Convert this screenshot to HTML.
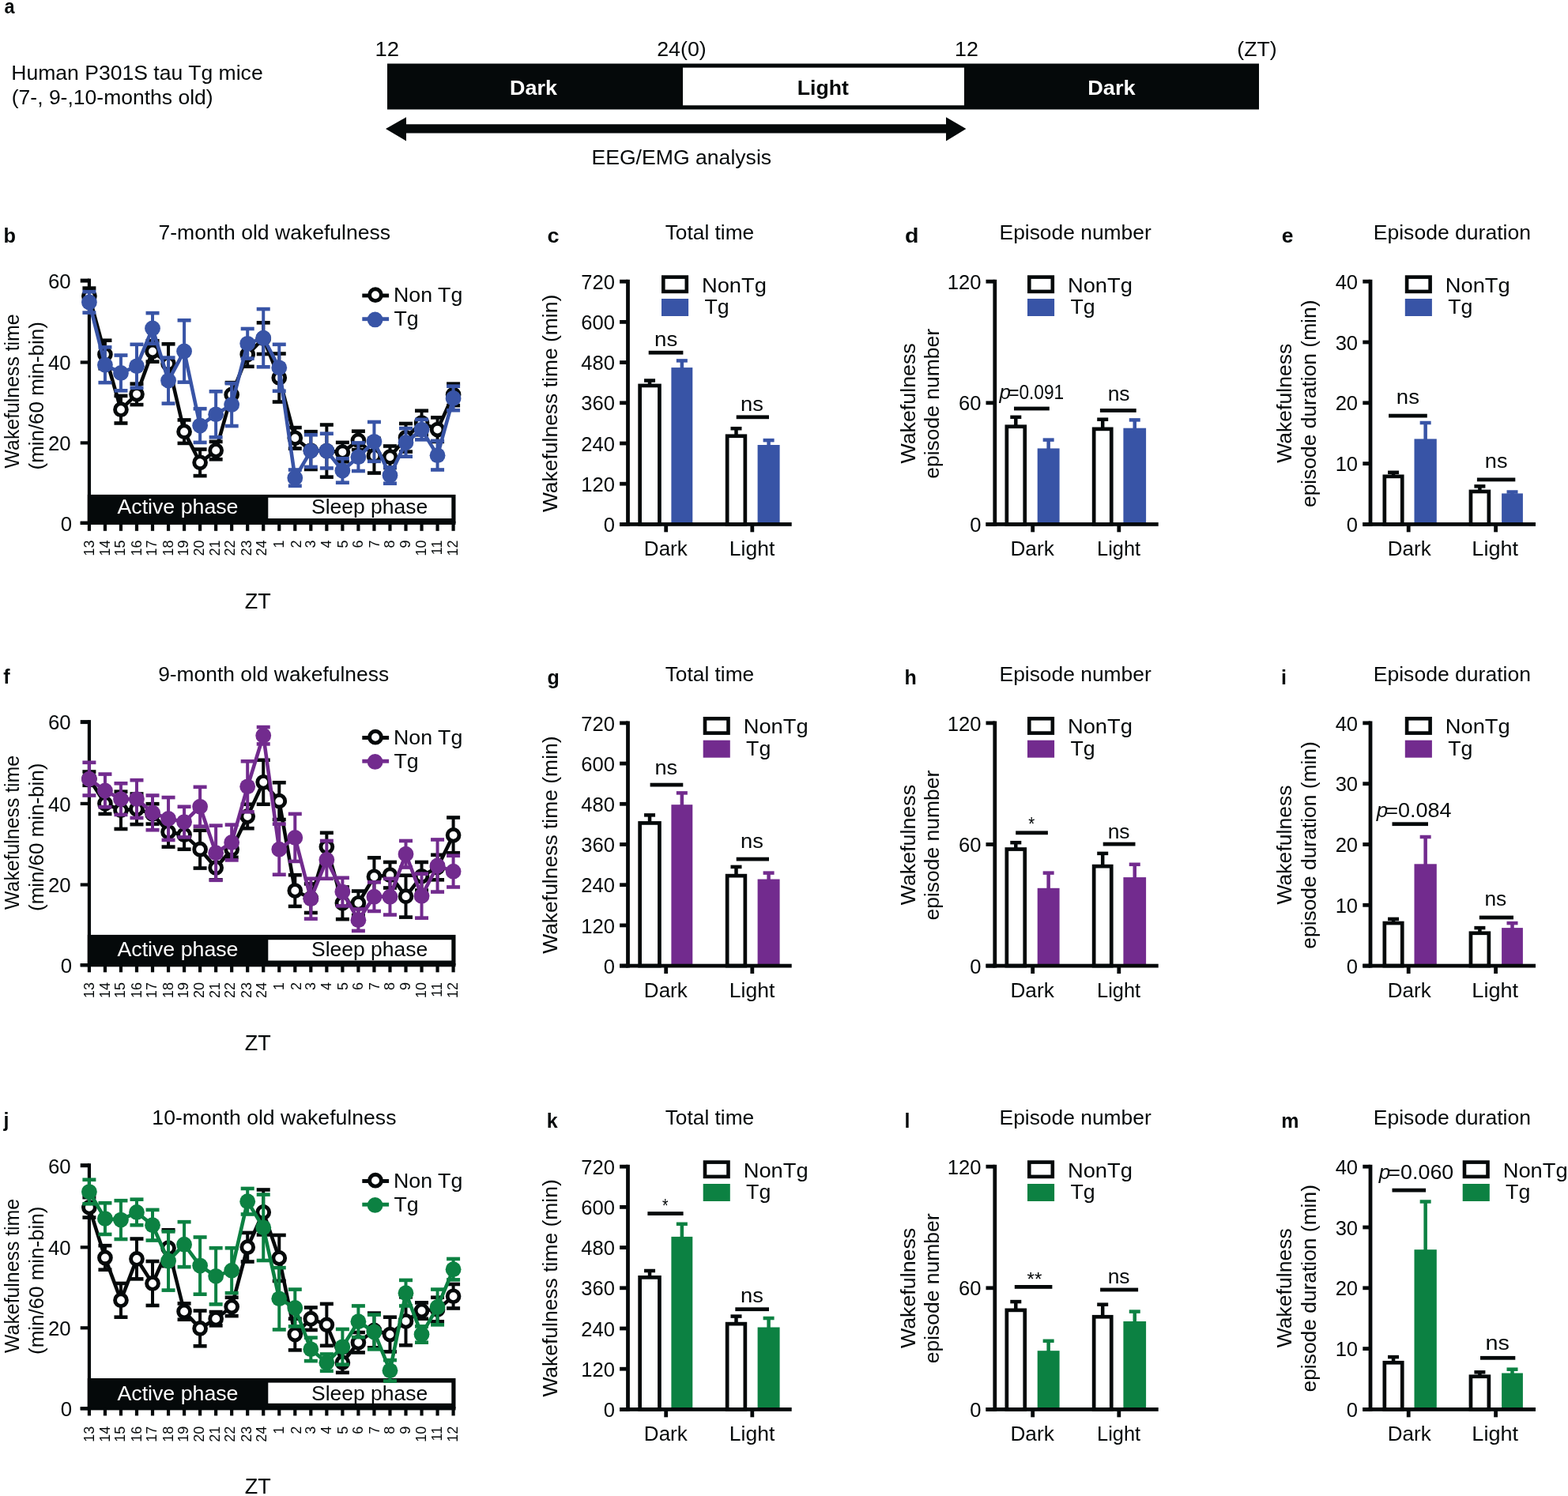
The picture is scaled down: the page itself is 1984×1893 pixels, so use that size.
<!DOCTYPE html>
<html><head><meta charset="utf-8"><title>Figure</title>
<style>html,body{margin:0;padding:0;background:#fff;}svg{display:block;}</style>
</head><body>
<svg width="1984" height="1893" viewBox="0 0 1984 1893" font-family="'Liberation Sans', Arial, sans-serif" fill="#05090a">
<rect width="100%" height="100%" fill="#ffffff"/>
<text x="5.52" y="17.3" font-size="25" font-weight="bold" textLength="13.02" lengthAdjust="spacingAndGlyphs">a</text>
<text x="14.22" y="101" font-size="26" textLength="318.44" lengthAdjust="spacingAndGlyphs">Human P301S tau Tg mice</text>
<text x="14.76" y="132" font-size="26" textLength="254.88" lengthAdjust="spacingAndGlyphs">(7-, 9-,10-months old)</text>
<text x="474.52" y="71" font-size="26.5" textLength="30.46" lengthAdjust="spacingAndGlyphs">12</text>
<text x="831.26" y="71" font-size="26.5" textLength="62.41" lengthAdjust="spacingAndGlyphs">24(0)</text>
<text x="1207.96" y="71" font-size="26.5" textLength="29.89" lengthAdjust="spacingAndGlyphs">12</text>
<text x="1565.35" y="71" font-size="26.5" textLength="50.3" lengthAdjust="spacingAndGlyphs">(ZT)</text>
<rect x="490" y="80.5" width="1103" height="58" fill="#05090a"/>
<rect x="864" y="85.6" width="356" height="47.7" fill="#ffffff"/>
<text x="645.1" y="119.6" font-size="25" font-weight="bold" fill="#ffffff" textLength="59.9" lengthAdjust="spacingAndGlyphs">Dark</text>
<text x="1008.81" y="119.6" font-size="25" font-weight="bold" textLength="65.12" lengthAdjust="spacingAndGlyphs">Light</text>
<text x="1376.18" y="119.6" font-size="25" font-weight="bold" fill="#ffffff" textLength="60.41" lengthAdjust="spacingAndGlyphs">Dark</text>
<path d="M488 163 L514 148.3 L514 157.2 L1197 157.2 L1197 148.3 L1222.4 163 L1197 178.4 L1197 168.6 L514 168.6 L514 178.4 Z" fill="#05090a"/>
<text x="748.42" y="208.2" font-size="26" textLength="227.74" lengthAdjust="spacingAndGlyphs">EEG/EMG analysis</text>
<text x="4.42" y="306.6" font-size="25" font-weight="bold" textLength="15.51" lengthAdjust="spacingAndGlyphs">b</text>
<text x="200.45" y="303.1" font-size="26.4" textLength="293.6" lengthAdjust="spacingAndGlyphs">7-month old wakefulness</text>
<text transform="translate(23.7 592.3) rotate(-90)" x="-0.12" y="0" font-size="26.2" textLength="195.03" lengthAdjust="spacingAndGlyphs">Wakefulness time</text>
<text transform="translate(55 592.9) rotate(-90)" x="-1.61" y="0" font-size="25.3" textLength="187.32" lengthAdjust="spacingAndGlyphs">(min/60 min-bin)</text>
<rect x="101.7" y="659.7" width="11.2" height="4.2" fill="#05090a"/>
<text x="76.66" y="671.6" font-size="25.8">0</text>
<rect x="101.7" y="558.3" width="11.2" height="4.2" fill="#05090a"/>
<text x="60.92" y="570.2" font-size="25.8">20</text>
<rect x="101.7" y="456.4" width="11.2" height="4.2" fill="#05090a"/>
<text x="60.92" y="468.3" font-size="25.8">40</text>
<rect x="101.7" y="352.6" width="11.2" height="5" fill="#05090a"/>
<text x="60.92" y="364.9" font-size="25.8">60</text>
<rect x="110.8" y="625.9" width="465.7" height="35.9" fill="#05090a"/>
<rect x="339.3" y="629.7" width="232" height="26.3" fill="#ffffff"/>
<rect x="110.8" y="352.6" width="4.2" height="311.3" fill="#05090a"/>
<rect x="101.7" y="659.7" width="474.8" height="4.2" fill="#05090a"/>
<rect x="110.8" y="661.8" width="4.2" height="10" fill="#05090a"/>
<text transform="translate(118.8 703.62) rotate(-90)" x="0" y="0" font-size="18">13</text>
<rect x="130.83" y="661.8" width="4.2" height="10" fill="#05090a"/>
<text transform="translate(139.43 703.62) rotate(-90)" x="0" y="0" font-size="18">14</text>
<rect x="150.86" y="661.8" width="4.2" height="10" fill="#05090a"/>
<text transform="translate(158.36 703.62) rotate(-90)" x="0" y="0" font-size="18">15</text>
<rect x="170.89" y="661.8" width="4.2" height="10" fill="#05090a"/>
<text transform="translate(178.99 703.62) rotate(-90)" x="0" y="0" font-size="18">16</text>
<rect x="190.92" y="661.8" width="4.2" height="10" fill="#05090a"/>
<text transform="translate(198.02 703.62) rotate(-90)" x="0" y="0" font-size="18">17</text>
<rect x="210.95" y="661.8" width="4.2" height="10" fill="#05090a"/>
<text transform="translate(218.65 703.62) rotate(-90)" x="0" y="0" font-size="18">18</text>
<rect x="230.98" y="661.8" width="4.2" height="10" fill="#05090a"/>
<text transform="translate(237.78 703.62) rotate(-90)" x="0" y="0" font-size="18">19</text>
<rect x="251.01" y="661.8" width="4.2" height="10" fill="#05090a"/>
<text transform="translate(258.31 703.62) rotate(-90)" x="0" y="0" font-size="18">20</text>
<rect x="271.04" y="661.8" width="4.2" height="10" fill="#05090a"/>
<text transform="translate(278.14 703.62) rotate(-90)" x="0" y="0" font-size="18">21</text>
<rect x="291.07" y="661.8" width="4.2" height="10" fill="#05090a"/>
<text transform="translate(297.27 703.62) rotate(-90)" x="0" y="0" font-size="18">22</text>
<rect x="311.1" y="661.8" width="4.2" height="10" fill="#05090a"/>
<text transform="translate(317.9 703.62) rotate(-90)" x="0" y="0" font-size="18">23</text>
<rect x="331.13" y="661.8" width="4.2" height="10" fill="#05090a"/>
<text transform="translate(336.93 703.62) rotate(-90)" x="0" y="0" font-size="18">24</text>
<rect x="351.16" y="661.8" width="4.2" height="10" fill="#05090a"/>
<text transform="translate(359.46 693.61) rotate(-90)" x="0" y="0" font-size="18">1</text>
<rect x="371.19" y="661.8" width="4.2" height="10" fill="#05090a"/>
<text transform="translate(380.79 693.61) rotate(-90)" x="0" y="0" font-size="18">2</text>
<rect x="391.22" y="661.8" width="4.2" height="10" fill="#05090a"/>
<text transform="translate(399.32 693.61) rotate(-90)" x="0" y="0" font-size="18">3</text>
<rect x="411.25" y="661.8" width="4.2" height="10" fill="#05090a"/>
<text transform="translate(419.25 693.61) rotate(-90)" x="0" y="0" font-size="18">4</text>
<rect x="431.28" y="661.8" width="4.2" height="10" fill="#05090a"/>
<text transform="translate(439.78 693.61) rotate(-90)" x="0" y="0" font-size="18">5</text>
<rect x="451.31" y="661.8" width="4.2" height="10" fill="#05090a"/>
<text transform="translate(459.01 693.61) rotate(-90)" x="0" y="0" font-size="18">6</text>
<rect x="471.34" y="661.8" width="4.2" height="10" fill="#05090a"/>
<text transform="translate(479.54 693.61) rotate(-90)" x="0" y="0" font-size="18">7</text>
<rect x="491.37" y="661.8" width="4.2" height="10" fill="#05090a"/>
<text transform="translate(498.77 693.61) rotate(-90)" x="0" y="0" font-size="18">8</text>
<rect x="511.4" y="661.8" width="4.2" height="10" fill="#05090a"/>
<text transform="translate(519.4 693.61) rotate(-90)" x="0" y="0" font-size="18">9</text>
<rect x="531.43" y="661.8" width="4.2" height="10" fill="#05090a"/>
<text transform="translate(538.63 703.62) rotate(-90)" x="0" y="0" font-size="18">10</text>
<rect x="551.46" y="661.8" width="4.2" height="10" fill="#05090a"/>
<text transform="translate(558.56 702.29) rotate(-90)" x="0" y="0" font-size="18">11</text>
<rect x="571.49" y="661.8" width="4.2" height="10" fill="#05090a"/>
<text transform="translate(579.09 703.62) rotate(-90)" x="0" y="0" font-size="18">12</text>
<text x="148.45" y="650.3" font-size="26" fill="#ffffff" textLength="153.05" lengthAdjust="spacingAndGlyphs">Active phase</text>
<text x="393.98" y="650.2" font-size="26" textLength="147.29" lengthAdjust="spacingAndGlyphs">Sleep phase</text>
<text x="309.84" y="770.2" font-size="27">ZT</text>
<rect x="110.9" y="364.63" width="4" height="20.34" fill="#05090a"/>
<rect x="104.4" y="362.33" width="17" height="4.6" fill="#05090a"/>
<rect x="104.4" y="382.67" width="17" height="4.6" fill="#05090a"/>
<rect x="130.93" y="430.73" width="4" height="35.6" fill="#05090a"/>
<rect x="124.43" y="428.43" width="17" height="4.6" fill="#05090a"/>
<rect x="124.43" y="464.03" width="17" height="4.6" fill="#05090a"/>
<rect x="150.96" y="500.91" width="4" height="34.58" fill="#05090a"/>
<rect x="144.46" y="498.61" width="17" height="4.6" fill="#05090a"/>
<rect x="144.46" y="533.18" width="17" height="4.6" fill="#05090a"/>
<rect x="170.99" y="485.65" width="4" height="26.44" fill="#05090a"/>
<rect x="164.49" y="483.35" width="17" height="4.6" fill="#05090a"/>
<rect x="164.49" y="509.79" width="17" height="4.6" fill="#05090a"/>
<rect x="191.02" y="431.24" width="4" height="26.44" fill="#05090a"/>
<rect x="184.52" y="428.94" width="17" height="4.6" fill="#05090a"/>
<rect x="184.52" y="455.38" width="17" height="4.6" fill="#05090a"/>
<rect x="211.05" y="435.31" width="4" height="49.83" fill="#05090a"/>
<rect x="204.55" y="433.01" width="17" height="4.6" fill="#05090a"/>
<rect x="204.55" y="482.84" width="17" height="4.6" fill="#05090a"/>
<rect x="231.08" y="531.42" width="4" height="29.49" fill="#05090a"/>
<rect x="224.58" y="529.12" width="17" height="4.6" fill="#05090a"/>
<rect x="224.58" y="558.61" width="17" height="4.6" fill="#05090a"/>
<rect x="251.11" y="568.54" width="4" height="33.56" fill="#05090a"/>
<rect x="244.61" y="566.24" width="17" height="4.6" fill="#05090a"/>
<rect x="244.61" y="599.8" width="17" height="4.6" fill="#05090a"/>
<rect x="271.14" y="558.87" width="4" height="22.37" fill="#05090a"/>
<rect x="264.64" y="556.57" width="17" height="4.6" fill="#05090a"/>
<rect x="264.64" y="578.95" width="17" height="4.6" fill="#05090a"/>
<rect x="291.17" y="484.12" width="4" height="30.51" fill="#05090a"/>
<rect x="284.67" y="481.82" width="17" height="4.6" fill="#05090a"/>
<rect x="284.67" y="512.34" width="17" height="4.6" fill="#05090a"/>
<rect x="311.2" y="433.28" width="4" height="30.51" fill="#05090a"/>
<rect x="304.7" y="430.98" width="17" height="4.6" fill="#05090a"/>
<rect x="304.7" y="461.49" width="17" height="4.6" fill="#05090a"/>
<rect x="331.23" y="408.36" width="4" height="39.66" fill="#05090a"/>
<rect x="324.73" y="406.06" width="17" height="4.6" fill="#05090a"/>
<rect x="324.73" y="445.72" width="17" height="4.6" fill="#05090a"/>
<rect x="351.26" y="447.51" width="4" height="61.02" fill="#05090a"/>
<rect x="344.76" y="445.21" width="17" height="4.6" fill="#05090a"/>
<rect x="344.76" y="506.23" width="17" height="4.6" fill="#05090a"/>
<rect x="371.29" y="541.08" width="4" height="26.44" fill="#05090a"/>
<rect x="364.79" y="538.78" width="17" height="4.6" fill="#05090a"/>
<rect x="364.79" y="565.22" width="17" height="4.6" fill="#05090a"/>
<rect x="391.32" y="546.16" width="4" height="47.8" fill="#05090a"/>
<rect x="384.82" y="543.86" width="17" height="4.6" fill="#05090a"/>
<rect x="384.82" y="591.66" width="17" height="4.6" fill="#05090a"/>
<rect x="411.35" y="537.52" width="4" height="66.11" fill="#05090a"/>
<rect x="404.85" y="535.22" width="17" height="4.6" fill="#05090a"/>
<rect x="404.85" y="601.32" width="17" height="4.6" fill="#05090a"/>
<rect x="431.38" y="559.89" width="4" height="24.41" fill="#05090a"/>
<rect x="424.88" y="557.59" width="17" height="4.6" fill="#05090a"/>
<rect x="424.88" y="582" width="17" height="4.6" fill="#05090a"/>
<rect x="451.41" y="545.65" width="4" height="23.39" fill="#05090a"/>
<rect x="444.91" y="543.35" width="17" height="4.6" fill="#05090a"/>
<rect x="444.91" y="566.74" width="17" height="4.6" fill="#05090a"/>
<rect x="471.44" y="554.81" width="4" height="43.73" fill="#05090a"/>
<rect x="464.94" y="552.51" width="17" height="4.6" fill="#05090a"/>
<rect x="464.94" y="596.24" width="17" height="4.6" fill="#05090a"/>
<rect x="491.47" y="564.47" width="4" height="27.46" fill="#05090a"/>
<rect x="484.97" y="562.17" width="17" height="4.6" fill="#05090a"/>
<rect x="484.97" y="589.63" width="17" height="4.6" fill="#05090a"/>
<rect x="511.5" y="535.99" width="4" height="35.6" fill="#05090a"/>
<rect x="505" y="533.69" width="17" height="4.6" fill="#05090a"/>
<rect x="505" y="569.29" width="17" height="4.6" fill="#05090a"/>
<rect x="531.53" y="519.72" width="4" height="30.51" fill="#05090a"/>
<rect x="525.03" y="517.42" width="17" height="4.6" fill="#05090a"/>
<rect x="525.03" y="547.93" width="17" height="4.6" fill="#05090a"/>
<rect x="551.56" y="528.36" width="4" height="30.51" fill="#05090a"/>
<rect x="545.06" y="526.06" width="17" height="4.6" fill="#05090a"/>
<rect x="545.06" y="556.57" width="17" height="4.6" fill="#05090a"/>
<rect x="571.59" y="485.65" width="4" height="27.46" fill="#05090a"/>
<rect x="565.09" y="483.35" width="17" height="4.6" fill="#05090a"/>
<rect x="565.09" y="510.81" width="17" height="4.6" fill="#05090a"/>
<polyline points="112.9,374.8 132.93,448.53 152.96,518.19 172.99,498.87 193.02,444.46 213.05,460.23 233.08,546.16 253.11,585.32 273.14,570.06 293.17,499.38 313.2,448.53 333.23,428.19 353.26,478.02 373.29,554.3 393.32,570.06 413.35,570.57 433.38,572.1 453.41,557.35 473.44,576.67 493.47,578.2 513.5,553.79 533.53,534.98 553.56,543.62 573.59,499.38" fill="none" stroke="#05090a" stroke-width="4.6" stroke-linejoin="round"/>
<circle cx="112.9" cy="374.8" r="7.4" fill="#ffffff" stroke="#05090a" stroke-width="4.9"/>
<circle cx="132.93" cy="448.53" r="7.4" fill="#ffffff" stroke="#05090a" stroke-width="4.9"/>
<circle cx="152.96" cy="518.19" r="7.4" fill="#ffffff" stroke="#05090a" stroke-width="4.9"/>
<circle cx="172.99" cy="498.87" r="7.4" fill="#ffffff" stroke="#05090a" stroke-width="4.9"/>
<circle cx="193.02" cy="444.46" r="7.4" fill="#ffffff" stroke="#05090a" stroke-width="4.9"/>
<circle cx="213.05" cy="460.23" r="7.4" fill="#ffffff" stroke="#05090a" stroke-width="4.9"/>
<circle cx="233.08" cy="546.16" r="7.4" fill="#ffffff" stroke="#05090a" stroke-width="4.9"/>
<circle cx="253.11" cy="585.32" r="7.4" fill="#ffffff" stroke="#05090a" stroke-width="4.9"/>
<circle cx="273.14" cy="570.06" r="7.4" fill="#ffffff" stroke="#05090a" stroke-width="4.9"/>
<circle cx="293.17" cy="499.38" r="7.4" fill="#ffffff" stroke="#05090a" stroke-width="4.9"/>
<circle cx="313.2" cy="448.53" r="7.4" fill="#ffffff" stroke="#05090a" stroke-width="4.9"/>
<circle cx="333.23" cy="428.19" r="7.4" fill="#ffffff" stroke="#05090a" stroke-width="4.9"/>
<circle cx="353.26" cy="478.02" r="7.4" fill="#ffffff" stroke="#05090a" stroke-width="4.9"/>
<circle cx="373.29" cy="554.3" r="7.4" fill="#ffffff" stroke="#05090a" stroke-width="4.9"/>
<circle cx="393.32" cy="570.06" r="7.4" fill="#ffffff" stroke="#05090a" stroke-width="4.9"/>
<circle cx="413.35" cy="570.57" r="7.4" fill="#ffffff" stroke="#05090a" stroke-width="4.9"/>
<circle cx="433.38" cy="572.1" r="7.4" fill="#ffffff" stroke="#05090a" stroke-width="4.9"/>
<circle cx="453.41" cy="557.35" r="7.4" fill="#ffffff" stroke="#05090a" stroke-width="4.9"/>
<circle cx="473.44" cy="576.67" r="7.4" fill="#ffffff" stroke="#05090a" stroke-width="4.9"/>
<circle cx="493.47" cy="578.2" r="7.4" fill="#ffffff" stroke="#05090a" stroke-width="4.9"/>
<circle cx="513.5" cy="553.79" r="7.4" fill="#ffffff" stroke="#05090a" stroke-width="4.9"/>
<circle cx="533.53" cy="534.98" r="7.4" fill="#ffffff" stroke="#05090a" stroke-width="4.9"/>
<circle cx="553.56" cy="543.62" r="7.4" fill="#ffffff" stroke="#05090a" stroke-width="4.9"/>
<circle cx="573.59" cy="499.38" r="7.4" fill="#ffffff" stroke="#05090a" stroke-width="4.9"/>
<rect x="110.9" y="369.2" width="4" height="26.44" fill="#3854a6"/>
<rect x="104.4" y="366.9" width="17" height="4.6" fill="#3854a6"/>
<rect x="104.4" y="393.35" width="17" height="4.6" fill="#3854a6"/>
<rect x="130.93" y="439.38" width="4" height="44.75" fill="#3854a6"/>
<rect x="124.43" y="437.08" width="17" height="4.6" fill="#3854a6"/>
<rect x="124.43" y="481.83" width="17" height="4.6" fill="#3854a6"/>
<rect x="150.96" y="449.55" width="4" height="44.75" fill="#3854a6"/>
<rect x="144.46" y="447.25" width="17" height="4.6" fill="#3854a6"/>
<rect x="144.46" y="492" width="17" height="4.6" fill="#3854a6"/>
<rect x="170.99" y="435.82" width="4" height="54.92" fill="#3854a6"/>
<rect x="164.49" y="433.52" width="17" height="4.6" fill="#3854a6"/>
<rect x="164.49" y="488.44" width="17" height="4.6" fill="#3854a6"/>
<rect x="191.02" y="396.15" width="4" height="38.65" fill="#3854a6"/>
<rect x="184.52" y="393.85" width="17" height="4.6" fill="#3854a6"/>
<rect x="184.52" y="432.5" width="17" height="4.6" fill="#3854a6"/>
<rect x="211.05" y="452.6" width="4" height="57.97" fill="#3854a6"/>
<rect x="204.55" y="450.3" width="17" height="4.6" fill="#3854a6"/>
<rect x="204.55" y="508.27" width="17" height="4.6" fill="#3854a6"/>
<rect x="231.08" y="405.31" width="4" height="78.31" fill="#3854a6"/>
<rect x="224.58" y="403.01" width="17" height="4.6" fill="#3854a6"/>
<rect x="224.58" y="481.32" width="17" height="4.6" fill="#3854a6"/>
<rect x="251.11" y="517.18" width="4" height="42.71" fill="#3854a6"/>
<rect x="244.61" y="514.88" width="17" height="4.6" fill="#3854a6"/>
<rect x="244.61" y="557.59" width="17" height="4.6" fill="#3854a6"/>
<rect x="271.14" y="495.31" width="4" height="57.97" fill="#3854a6"/>
<rect x="264.64" y="493.01" width="17" height="4.6" fill="#3854a6"/>
<rect x="264.64" y="550.98" width="17" height="4.6" fill="#3854a6"/>
<rect x="291.17" y="485.14" width="4" height="53.9" fill="#3854a6"/>
<rect x="284.67" y="482.84" width="17" height="4.6" fill="#3854a6"/>
<rect x="284.67" y="536.74" width="17" height="4.6" fill="#3854a6"/>
<rect x="311.2" y="415.99" width="4" height="37.63" fill="#3854a6"/>
<rect x="304.7" y="413.69" width="17" height="4.6" fill="#3854a6"/>
<rect x="304.7" y="451.31" width="17" height="4.6" fill="#3854a6"/>
<rect x="331.23" y="391.07" width="4" height="73.22" fill="#3854a6"/>
<rect x="324.73" y="388.77" width="17" height="4.6" fill="#3854a6"/>
<rect x="324.73" y="461.99" width="17" height="4.6" fill="#3854a6"/>
<rect x="351.26" y="435.82" width="4" height="58.99" fill="#3854a6"/>
<rect x="344.76" y="433.52" width="17" height="4.6" fill="#3854a6"/>
<rect x="344.76" y="492.5" width="17" height="4.6" fill="#3854a6"/>
<rect x="371.29" y="594.47" width="4" height="20.34" fill="#3854a6"/>
<rect x="364.79" y="592.17" width="17" height="4.6" fill="#3854a6"/>
<rect x="364.79" y="612.51" width="17" height="4.6" fill="#3854a6"/>
<rect x="391.32" y="550.23" width="4" height="40.68" fill="#3854a6"/>
<rect x="384.82" y="547.93" width="17" height="4.6" fill="#3854a6"/>
<rect x="384.82" y="588.61" width="17" height="4.6" fill="#3854a6"/>
<rect x="411.35" y="548.7" width="4" height="43.73" fill="#3854a6"/>
<rect x="404.85" y="546.4" width="17" height="4.6" fill="#3854a6"/>
<rect x="404.85" y="590.14" width="17" height="4.6" fill="#3854a6"/>
<rect x="431.38" y="580.23" width="4" height="30.51" fill="#3854a6"/>
<rect x="424.88" y="577.93" width="17" height="4.6" fill="#3854a6"/>
<rect x="424.88" y="608.44" width="17" height="4.6" fill="#3854a6"/>
<rect x="451.41" y="560.4" width="4" height="35.6" fill="#3854a6"/>
<rect x="444.91" y="558.1" width="17" height="4.6" fill="#3854a6"/>
<rect x="444.91" y="593.7" width="17" height="4.6" fill="#3854a6"/>
<rect x="471.44" y="533.96" width="4" height="49.83" fill="#3854a6"/>
<rect x="464.94" y="531.66" width="17" height="4.6" fill="#3854a6"/>
<rect x="464.94" y="581.49" width="17" height="4.6" fill="#3854a6"/>
<rect x="491.47" y="591.42" width="4" height="20.34" fill="#3854a6"/>
<rect x="484.97" y="589.12" width="17" height="4.6" fill="#3854a6"/>
<rect x="484.97" y="609.46" width="17" height="4.6" fill="#3854a6"/>
<rect x="511.5" y="542.09" width="4" height="35.6" fill="#3854a6"/>
<rect x="505" y="539.79" width="17" height="4.6" fill="#3854a6"/>
<rect x="505" y="575.39" width="17" height="4.6" fill="#3854a6"/>
<rect x="531.53" y="530.91" width="4" height="25.42" fill="#3854a6"/>
<rect x="525.03" y="528.61" width="17" height="4.6" fill="#3854a6"/>
<rect x="525.03" y="554.03" width="17" height="4.6" fill="#3854a6"/>
<rect x="551.56" y="557.86" width="4" height="36.61" fill="#3854a6"/>
<rect x="545.06" y="555.56" width="17" height="4.6" fill="#3854a6"/>
<rect x="545.06" y="592.17" width="17" height="4.6" fill="#3854a6"/>
<rect x="571.59" y="488.7" width="4" height="30.51" fill="#3854a6"/>
<rect x="565.09" y="486.4" width="17" height="4.6" fill="#3854a6"/>
<rect x="565.09" y="516.91" width="17" height="4.6" fill="#3854a6"/>
<polyline points="112.9,382.43 132.93,461.75 152.96,471.92 172.99,463.28 193.02,415.48 213.05,481.58 233.08,444.46 253.11,538.53 273.14,524.3 293.17,512.09 313.2,434.8 333.23,427.68 353.26,465.31 373.29,604.64 393.32,570.57 413.35,570.57 433.38,595.49 453.41,578.2 473.44,558.87 493.47,601.59 513.5,559.89 533.53,543.62 553.56,576.16 573.59,503.96" fill="none" stroke="#3854a6" stroke-width="4.6" stroke-linejoin="round"/>
<circle cx="112.9" cy="382.43" r="9.9" fill="#3854a6"/>
<circle cx="132.93" cy="461.75" r="9.9" fill="#3854a6"/>
<circle cx="152.96" cy="471.92" r="9.9" fill="#3854a6"/>
<circle cx="172.99" cy="463.28" r="9.9" fill="#3854a6"/>
<circle cx="193.02" cy="415.48" r="9.9" fill="#3854a6"/>
<circle cx="213.05" cy="481.58" r="9.9" fill="#3854a6"/>
<circle cx="233.08" cy="444.46" r="9.9" fill="#3854a6"/>
<circle cx="253.11" cy="538.53" r="9.9" fill="#3854a6"/>
<circle cx="273.14" cy="524.3" r="9.9" fill="#3854a6"/>
<circle cx="293.17" cy="512.09" r="9.9" fill="#3854a6"/>
<circle cx="313.2" cy="434.8" r="9.9" fill="#3854a6"/>
<circle cx="333.23" cy="427.68" r="9.9" fill="#3854a6"/>
<circle cx="353.26" cy="465.31" r="9.9" fill="#3854a6"/>
<circle cx="373.29" cy="604.64" r="9.9" fill="#3854a6"/>
<circle cx="393.32" cy="570.57" r="9.9" fill="#3854a6"/>
<circle cx="413.35" cy="570.57" r="9.9" fill="#3854a6"/>
<circle cx="433.38" cy="595.49" r="9.9" fill="#3854a6"/>
<circle cx="453.41" cy="578.2" r="9.9" fill="#3854a6"/>
<circle cx="473.44" cy="558.87" r="9.9" fill="#3854a6"/>
<circle cx="493.47" cy="601.59" r="9.9" fill="#3854a6"/>
<circle cx="513.5" cy="559.89" r="9.9" fill="#3854a6"/>
<circle cx="533.53" cy="543.62" r="9.9" fill="#3854a6"/>
<circle cx="553.56" cy="576.16" r="9.9" fill="#3854a6"/>
<circle cx="573.59" cy="503.96" r="9.9" fill="#3854a6"/>
<rect x="458.3" y="371.55" width="33.8" height="4.9" fill="#05090a"/>
<circle cx="475" cy="373.2" r="7.4" fill="#ffffff" stroke="#05090a" stroke-width="4.9"/>
<text x="498" y="381.7" font-size="26" textLength="87.32" lengthAdjust="spacingAndGlyphs">Non Tg</text>
<rect x="458.3" y="401.25" width="33.8" height="4.9" fill="#3854a6"/>
<circle cx="474.6" cy="404.4" r="9.9" fill="#3854a6"/>
<text x="498.41" y="411.9" font-size="26" textLength="31.2" lengthAdjust="spacingAndGlyphs">Tg</text>
<text x="4.17" y="865.1" font-size="25" font-weight="bold">f</text>
<text x="200.16" y="861.6" font-size="26.4">9-month old wakefulness</text>
<text transform="translate(23.7 1150.8) rotate(-90)" x="-0.12" y="0" font-size="26.2" textLength="195.03" lengthAdjust="spacingAndGlyphs">Wakefulness time</text>
<text transform="translate(55 1151.4) rotate(-90)" x="-1.61" y="0" font-size="25.3" textLength="187.32" lengthAdjust="spacingAndGlyphs">(min/60 min-bin)</text>
<rect x="101.7" y="1219.1" width="11.2" height="4.2" fill="#05090a"/>
<text x="76.66" y="1231" font-size="25.8">0</text>
<rect x="101.7" y="1117.4" width="11.2" height="4.2" fill="#05090a"/>
<text x="60.92" y="1129.3" font-size="25.8">20</text>
<rect x="101.7" y="1014.8" width="11.2" height="4.2" fill="#05090a"/>
<text x="60.92" y="1026.7" font-size="25.8">40</text>
<rect x="101.7" y="911.1" width="11.2" height="5" fill="#05090a"/>
<text x="60.92" y="923.4" font-size="25.8">60</text>
<rect x="110.8" y="1182.9" width="465.7" height="38.3" fill="#05090a"/>
<rect x="339.3" y="1189.2" width="232" height="26.3" fill="#ffffff"/>
<rect x="110.8" y="911.1" width="4.2" height="312.2" fill="#05090a"/>
<rect x="101.7" y="1219.1" width="474.8" height="4.2" fill="#05090a"/>
<rect x="110.8" y="1221.2" width="4.2" height="9.1" fill="#05090a"/>
<text transform="translate(118.8 1263.12) rotate(-90)" x="0" y="0" font-size="18">13</text>
<rect x="130.83" y="1221.2" width="4.2" height="9.1" fill="#05090a"/>
<text transform="translate(139.43 1263.12) rotate(-90)" x="0" y="0" font-size="18">14</text>
<rect x="150.86" y="1221.2" width="4.2" height="9.1" fill="#05090a"/>
<text transform="translate(158.36 1263.12) rotate(-90)" x="0" y="0" font-size="18">15</text>
<rect x="170.89" y="1221.2" width="4.2" height="9.1" fill="#05090a"/>
<text transform="translate(178.99 1263.12) rotate(-90)" x="0" y="0" font-size="18">16</text>
<rect x="190.92" y="1221.2" width="4.2" height="9.1" fill="#05090a"/>
<text transform="translate(198.02 1263.12) rotate(-90)" x="0" y="0" font-size="18">17</text>
<rect x="210.95" y="1221.2" width="4.2" height="9.1" fill="#05090a"/>
<text transform="translate(218.65 1263.12) rotate(-90)" x="0" y="0" font-size="18">18</text>
<rect x="230.98" y="1221.2" width="4.2" height="9.1" fill="#05090a"/>
<text transform="translate(237.78 1263.12) rotate(-90)" x="0" y="0" font-size="18">19</text>
<rect x="251.01" y="1221.2" width="4.2" height="9.1" fill="#05090a"/>
<text transform="translate(258.31 1263.12) rotate(-90)" x="0" y="0" font-size="18">20</text>
<rect x="271.04" y="1221.2" width="4.2" height="9.1" fill="#05090a"/>
<text transform="translate(278.14 1263.12) rotate(-90)" x="0" y="0" font-size="18">21</text>
<rect x="291.07" y="1221.2" width="4.2" height="9.1" fill="#05090a"/>
<text transform="translate(297.27 1263.12) rotate(-90)" x="0" y="0" font-size="18">22</text>
<rect x="311.1" y="1221.2" width="4.2" height="9.1" fill="#05090a"/>
<text transform="translate(317.9 1263.12) rotate(-90)" x="0" y="0" font-size="18">23</text>
<rect x="331.13" y="1221.2" width="4.2" height="9.1" fill="#05090a"/>
<text transform="translate(336.93 1263.12) rotate(-90)" x="0" y="0" font-size="18">24</text>
<rect x="351.16" y="1221.2" width="4.2" height="9.1" fill="#05090a"/>
<text transform="translate(359.46 1253.11) rotate(-90)" x="0" y="0" font-size="18">1</text>
<rect x="371.19" y="1221.2" width="4.2" height="9.1" fill="#05090a"/>
<text transform="translate(380.79 1253.11) rotate(-90)" x="0" y="0" font-size="18">2</text>
<rect x="391.22" y="1221.2" width="4.2" height="9.1" fill="#05090a"/>
<text transform="translate(399.32 1253.11) rotate(-90)" x="0" y="0" font-size="18">3</text>
<rect x="411.25" y="1221.2" width="4.2" height="9.1" fill="#05090a"/>
<text transform="translate(419.25 1253.11) rotate(-90)" x="0" y="0" font-size="18">4</text>
<rect x="431.28" y="1221.2" width="4.2" height="9.1" fill="#05090a"/>
<text transform="translate(439.78 1253.11) rotate(-90)" x="0" y="0" font-size="18">5</text>
<rect x="451.31" y="1221.2" width="4.2" height="9.1" fill="#05090a"/>
<text transform="translate(459.01 1253.11) rotate(-90)" x="0" y="0" font-size="18">6</text>
<rect x="471.34" y="1221.2" width="4.2" height="9.1" fill="#05090a"/>
<text transform="translate(479.54 1253.11) rotate(-90)" x="0" y="0" font-size="18">7</text>
<rect x="491.37" y="1221.2" width="4.2" height="9.1" fill="#05090a"/>
<text transform="translate(498.77 1253.11) rotate(-90)" x="0" y="0" font-size="18">8</text>
<rect x="511.4" y="1221.2" width="4.2" height="9.1" fill="#05090a"/>
<text transform="translate(519.4 1253.11) rotate(-90)" x="0" y="0" font-size="18">9</text>
<rect x="531.43" y="1221.2" width="4.2" height="9.1" fill="#05090a"/>
<text transform="translate(538.63 1263.12) rotate(-90)" x="0" y="0" font-size="18">10</text>
<rect x="551.46" y="1221.2" width="4.2" height="9.1" fill="#05090a"/>
<text transform="translate(558.56 1261.79) rotate(-90)" x="0" y="0" font-size="18">11</text>
<rect x="571.49" y="1221.2" width="4.2" height="9.1" fill="#05090a"/>
<text transform="translate(579.09 1263.12) rotate(-90)" x="0" y="0" font-size="18">12</text>
<text x="148.45" y="1210.3" font-size="26" fill="#ffffff" textLength="153.05" lengthAdjust="spacingAndGlyphs">Active phase</text>
<text x="393.98" y="1210.2" font-size="26" textLength="147.29" lengthAdjust="spacingAndGlyphs">Sleep phase</text>
<text x="309.84" y="1328.7" font-size="27">ZT</text>
<rect x="110.9" y="976.52" width="4" height="17.29" fill="#05090a"/>
<rect x="104.4" y="974.22" width="17" height="4.6" fill="#05090a"/>
<rect x="104.4" y="991.51" width="17" height="4.6" fill="#05090a"/>
<rect x="130.93" y="1003.47" width="4" height="26.44" fill="#05090a"/>
<rect x="124.43" y="1001.17" width="17" height="4.6" fill="#05090a"/>
<rect x="124.43" y="1027.61" width="17" height="4.6" fill="#05090a"/>
<rect x="150.96" y="1001.69" width="4" height="47.29" fill="#05090a"/>
<rect x="144.46" y="999.39" width="17" height="4.6" fill="#05090a"/>
<rect x="144.46" y="1046.68" width="17" height="4.6" fill="#05090a"/>
<rect x="170.99" y="1004.49" width="4" height="38.65" fill="#05090a"/>
<rect x="164.49" y="1002.19" width="17" height="4.6" fill="#05090a"/>
<rect x="164.49" y="1040.83" width="17" height="4.6" fill="#05090a"/>
<rect x="191.02" y="1017.2" width="4" height="25.43" fill="#05090a"/>
<rect x="184.52" y="1014.9" width="17" height="4.6" fill="#05090a"/>
<rect x="184.52" y="1040.33" width="17" height="4.6" fill="#05090a"/>
<rect x="211.05" y="1033.98" width="4" height="37.63" fill="#05090a"/>
<rect x="204.55" y="1031.68" width="17" height="4.6" fill="#05090a"/>
<rect x="204.55" y="1069.31" width="17" height="4.6" fill="#05090a"/>
<rect x="231.08" y="1038.05" width="4" height="36.61" fill="#05090a"/>
<rect x="224.58" y="1035.75" width="17" height="4.6" fill="#05090a"/>
<rect x="224.58" y="1072.36" width="17" height="4.6" fill="#05090a"/>
<rect x="251.11" y="1050.76" width="4" height="47.8" fill="#05090a"/>
<rect x="244.61" y="1048.46" width="17" height="4.6" fill="#05090a"/>
<rect x="244.61" y="1096.26" width="17" height="4.6" fill="#05090a"/>
<rect x="271.14" y="1082.8" width="4" height="30.51" fill="#05090a"/>
<rect x="264.64" y="1080.5" width="17" height="4.6" fill="#05090a"/>
<rect x="264.64" y="1111.01" width="17" height="4.6" fill="#05090a"/>
<rect x="291.17" y="1064.49" width="4" height="20.34" fill="#05090a"/>
<rect x="284.67" y="1062.19" width="17" height="4.6" fill="#05090a"/>
<rect x="284.67" y="1082.53" width="17" height="4.6" fill="#05090a"/>
<rect x="311.2" y="1017.71" width="4" height="30.51" fill="#05090a"/>
<rect x="304.7" y="1015.41" width="17" height="4.6" fill="#05090a"/>
<rect x="304.7" y="1045.92" width="17" height="4.6" fill="#05090a"/>
<rect x="331.23" y="961.77" width="4" height="55.93" fill="#05090a"/>
<rect x="324.73" y="959.47" width="17" height="4.6" fill="#05090a"/>
<rect x="324.73" y="1015.41" width="17" height="4.6" fill="#05090a"/>
<rect x="351.26" y="990.25" width="4" height="46.78" fill="#05090a"/>
<rect x="344.76" y="987.95" width="17" height="4.6" fill="#05090a"/>
<rect x="344.76" y="1034.73" width="17" height="4.6" fill="#05090a"/>
<rect x="371.29" y="1107.2" width="4" height="39.66" fill="#05090a"/>
<rect x="364.79" y="1104.9" width="17" height="4.6" fill="#05090a"/>
<rect x="364.79" y="1144.57" width="17" height="4.6" fill="#05090a"/>
<rect x="391.32" y="1118.39" width="4" height="36.61" fill="#05090a"/>
<rect x="384.82" y="1116.09" width="17" height="4.6" fill="#05090a"/>
<rect x="384.82" y="1152.7" width="17" height="4.6" fill="#05090a"/>
<rect x="411.35" y="1053.81" width="4" height="35.59" fill="#05090a"/>
<rect x="404.85" y="1051.51" width="17" height="4.6" fill="#05090a"/>
<rect x="404.85" y="1087.11" width="17" height="4.6" fill="#05090a"/>
<rect x="431.38" y="1122.46" width="4" height="40.68" fill="#05090a"/>
<rect x="424.88" y="1120.16" width="17" height="4.6" fill="#05090a"/>
<rect x="424.88" y="1160.84" width="17" height="4.6" fill="#05090a"/>
<rect x="451.41" y="1127.54" width="4" height="30.51" fill="#05090a"/>
<rect x="444.91" y="1125.24" width="17" height="4.6" fill="#05090a"/>
<rect x="444.91" y="1155.75" width="17" height="4.6" fill="#05090a"/>
<rect x="471.44" y="1085.34" width="4" height="47.8" fill="#05090a"/>
<rect x="464.94" y="1083.04" width="17" height="4.6" fill="#05090a"/>
<rect x="464.94" y="1130.84" width="17" height="4.6" fill="#05090a"/>
<rect x="491.47" y="1090.93" width="4" height="32.54" fill="#05090a"/>
<rect x="484.97" y="1088.63" width="17" height="4.6" fill="#05090a"/>
<rect x="484.97" y="1121.18" width="17" height="4.6" fill="#05090a"/>
<rect x="511.5" y="1107.71" width="4" height="52.88" fill="#05090a"/>
<rect x="505" y="1105.41" width="17" height="4.6" fill="#05090a"/>
<rect x="505" y="1158.3" width="17" height="4.6" fill="#05090a"/>
<rect x="531.53" y="1090.93" width="4" height="35.59" fill="#05090a"/>
<rect x="525.03" y="1088.63" width="17" height="4.6" fill="#05090a"/>
<rect x="525.03" y="1124.23" width="17" height="4.6" fill="#05090a"/>
<rect x="551.56" y="1081.78" width="4" height="31.53" fill="#05090a"/>
<rect x="545.06" y="1079.48" width="17" height="4.6" fill="#05090a"/>
<rect x="545.06" y="1111.01" width="17" height="4.6" fill="#05090a"/>
<rect x="571.59" y="1034.49" width="4" height="44.75" fill="#05090a"/>
<rect x="565.09" y="1032.19" width="17" height="4.6" fill="#05090a"/>
<rect x="565.09" y="1076.94" width="17" height="4.6" fill="#05090a"/>
<polyline points="112.9,985.16 132.93,1016.69 152.96,1025.34 172.99,1023.81 193.02,1029.91 213.05,1052.79 233.08,1056.35 253.11,1074.66 273.14,1098.05 293.17,1074.66 313.2,1032.96 333.23,989.74 353.26,1013.64 373.29,1127.04 393.32,1136.7 413.35,1071.61 433.38,1142.8 453.41,1142.8 473.44,1109.24 493.47,1107.2 513.5,1134.15 533.53,1108.73 553.56,1097.54 573.59,1056.86" fill="none" stroke="#05090a" stroke-width="4.6" stroke-linejoin="round"/>
<circle cx="112.9" cy="985.16" r="7.4" fill="#ffffff" stroke="#05090a" stroke-width="4.9"/>
<circle cx="132.93" cy="1016.69" r="7.4" fill="#ffffff" stroke="#05090a" stroke-width="4.9"/>
<circle cx="152.96" cy="1025.34" r="7.4" fill="#ffffff" stroke="#05090a" stroke-width="4.9"/>
<circle cx="172.99" cy="1023.81" r="7.4" fill="#ffffff" stroke="#05090a" stroke-width="4.9"/>
<circle cx="193.02" cy="1029.91" r="7.4" fill="#ffffff" stroke="#05090a" stroke-width="4.9"/>
<circle cx="213.05" cy="1052.79" r="7.4" fill="#ffffff" stroke="#05090a" stroke-width="4.9"/>
<circle cx="233.08" cy="1056.35" r="7.4" fill="#ffffff" stroke="#05090a" stroke-width="4.9"/>
<circle cx="253.11" cy="1074.66" r="7.4" fill="#ffffff" stroke="#05090a" stroke-width="4.9"/>
<circle cx="273.14" cy="1098.05" r="7.4" fill="#ffffff" stroke="#05090a" stroke-width="4.9"/>
<circle cx="293.17" cy="1074.66" r="7.4" fill="#ffffff" stroke="#05090a" stroke-width="4.9"/>
<circle cx="313.2" cy="1032.96" r="7.4" fill="#ffffff" stroke="#05090a" stroke-width="4.9"/>
<circle cx="333.23" cy="989.74" r="7.4" fill="#ffffff" stroke="#05090a" stroke-width="4.9"/>
<circle cx="353.26" cy="1013.64" r="7.4" fill="#ffffff" stroke="#05090a" stroke-width="4.9"/>
<circle cx="373.29" cy="1127.04" r="7.4" fill="#ffffff" stroke="#05090a" stroke-width="4.9"/>
<circle cx="393.32" cy="1136.7" r="7.4" fill="#ffffff" stroke="#05090a" stroke-width="4.9"/>
<circle cx="413.35" cy="1071.61" r="7.4" fill="#ffffff" stroke="#05090a" stroke-width="4.9"/>
<circle cx="433.38" cy="1142.8" r="7.4" fill="#ffffff" stroke="#05090a" stroke-width="4.9"/>
<circle cx="453.41" cy="1142.8" r="7.4" fill="#ffffff" stroke="#05090a" stroke-width="4.9"/>
<circle cx="473.44" cy="1109.24" r="7.4" fill="#ffffff" stroke="#05090a" stroke-width="4.9"/>
<circle cx="493.47" cy="1107.2" r="7.4" fill="#ffffff" stroke="#05090a" stroke-width="4.9"/>
<circle cx="513.5" cy="1134.15" r="7.4" fill="#ffffff" stroke="#05090a" stroke-width="4.9"/>
<circle cx="533.53" cy="1108.73" r="7.4" fill="#ffffff" stroke="#05090a" stroke-width="4.9"/>
<circle cx="553.56" cy="1097.54" r="7.4" fill="#ffffff" stroke="#05090a" stroke-width="4.9"/>
<circle cx="573.59" cy="1056.86" r="7.4" fill="#ffffff" stroke="#05090a" stroke-width="4.9"/>
<rect x="110.9" y="964.82" width="4" height="41.7" fill="#722b8e"/>
<rect x="104.4" y="962.52" width="17" height="4.6" fill="#722b8e"/>
<rect x="104.4" y="1004.22" width="17" height="4.6" fill="#722b8e"/>
<rect x="130.93" y="979.57" width="4" height="41.7" fill="#722b8e"/>
<rect x="124.43" y="977.27" width="17" height="4.6" fill="#722b8e"/>
<rect x="124.43" y="1018.97" width="17" height="4.6" fill="#722b8e"/>
<rect x="150.96" y="991.27" width="4" height="39.66" fill="#722b8e"/>
<rect x="144.46" y="988.97" width="17" height="4.6" fill="#722b8e"/>
<rect x="144.46" y="1028.63" width="17" height="4.6" fill="#722b8e"/>
<rect x="170.99" y="987.2" width="4" height="47.8" fill="#722b8e"/>
<rect x="164.49" y="984.9" width="17" height="4.6" fill="#722b8e"/>
<rect x="164.49" y="1032.7" width="17" height="4.6" fill="#722b8e"/>
<rect x="191.02" y="1006.52" width="4" height="43.73" fill="#722b8e"/>
<rect x="184.52" y="1004.22" width="17" height="4.6" fill="#722b8e"/>
<rect x="184.52" y="1047.95" width="17" height="4.6" fill="#722b8e"/>
<rect x="211.05" y="1009.06" width="4" height="53.9" fill="#722b8e"/>
<rect x="204.55" y="1006.76" width="17" height="4.6" fill="#722b8e"/>
<rect x="204.55" y="1060.66" width="17" height="4.6" fill="#722b8e"/>
<rect x="231.08" y="1020.76" width="4" height="38.65" fill="#722b8e"/>
<rect x="224.58" y="1018.46" width="17" height="4.6" fill="#722b8e"/>
<rect x="224.58" y="1057.11" width="17" height="4.6" fill="#722b8e"/>
<rect x="251.11" y="995.84" width="4" height="49.83" fill="#722b8e"/>
<rect x="244.61" y="993.54" width="17" height="4.6" fill="#722b8e"/>
<rect x="244.61" y="1043.38" width="17" height="4.6" fill="#722b8e"/>
<rect x="271.14" y="1044.66" width="4" height="69.16" fill="#722b8e"/>
<rect x="264.64" y="1042.36" width="17" height="4.6" fill="#722b8e"/>
<rect x="264.64" y="1111.51" width="17" height="4.6" fill="#722b8e"/>
<rect x="291.17" y="1043.64" width="4" height="44.75" fill="#722b8e"/>
<rect x="284.67" y="1041.34" width="17" height="4.6" fill="#722b8e"/>
<rect x="284.67" y="1086.09" width="17" height="4.6" fill="#722b8e"/>
<rect x="311.2" y="963.3" width="4" height="64.07" fill="#722b8e"/>
<rect x="304.7" y="961" width="17" height="4.6" fill="#722b8e"/>
<rect x="304.7" y="1025.07" width="17" height="4.6" fill="#722b8e"/>
<rect x="331.23" y="920.08" width="4" height="21.36" fill="#722b8e"/>
<rect x="324.73" y="917.78" width="17" height="4.6" fill="#722b8e"/>
<rect x="324.73" y="939.13" width="17" height="4.6" fill="#722b8e"/>
<rect x="351.26" y="1042.62" width="4" height="64.07" fill="#722b8e"/>
<rect x="344.76" y="1040.33" width="17" height="4.6" fill="#722b8e"/>
<rect x="344.76" y="1104.4" width="17" height="4.6" fill="#722b8e"/>
<rect x="371.29" y="1029.91" width="4" height="60" fill="#722b8e"/>
<rect x="364.79" y="1027.61" width="17" height="4.6" fill="#722b8e"/>
<rect x="364.79" y="1087.62" width="17" height="4.6" fill="#722b8e"/>
<rect x="391.32" y="1111.78" width="4" height="50.85" fill="#722b8e"/>
<rect x="384.82" y="1109.48" width="17" height="4.6" fill="#722b8e"/>
<rect x="384.82" y="1160.33" width="17" height="4.6" fill="#722b8e"/>
<rect x="411.35" y="1063.98" width="4" height="47.8" fill="#722b8e"/>
<rect x="404.85" y="1061.68" width="17" height="4.6" fill="#722b8e"/>
<rect x="404.85" y="1109.48" width="17" height="4.6" fill="#722b8e"/>
<rect x="431.38" y="1110.76" width="4" height="35.59" fill="#722b8e"/>
<rect x="424.88" y="1108.46" width="17" height="4.6" fill="#722b8e"/>
<rect x="424.88" y="1144.06" width="17" height="4.6" fill="#722b8e"/>
<rect x="451.41" y="1150.43" width="4" height="27.46" fill="#722b8e"/>
<rect x="444.91" y="1148.13" width="17" height="4.6" fill="#722b8e"/>
<rect x="444.91" y="1175.59" width="17" height="4.6" fill="#722b8e"/>
<rect x="471.44" y="1116.36" width="4" height="36.61" fill="#722b8e"/>
<rect x="464.94" y="1114.06" width="17" height="4.6" fill="#722b8e"/>
<rect x="464.94" y="1150.67" width="17" height="4.6" fill="#722b8e"/>
<rect x="491.47" y="1111.78" width="4" height="45.76" fill="#722b8e"/>
<rect x="484.97" y="1109.48" width="17" height="4.6" fill="#722b8e"/>
<rect x="484.97" y="1155.25" width="17" height="4.6" fill="#722b8e"/>
<rect x="511.5" y="1063.98" width="4" height="33.56" fill="#722b8e"/>
<rect x="505" y="1061.68" width="17" height="4.6" fill="#722b8e"/>
<rect x="505" y="1095.24" width="17" height="4.6" fill="#722b8e"/>
<rect x="531.53" y="1105.68" width="4" height="55.93" fill="#722b8e"/>
<rect x="525.03" y="1103.38" width="17" height="4.6" fill="#722b8e"/>
<rect x="525.03" y="1159.31" width="17" height="4.6" fill="#722b8e"/>
<rect x="551.56" y="1062.46" width="4" height="66.11" fill="#722b8e"/>
<rect x="545.06" y="1060.16" width="17" height="4.6" fill="#722b8e"/>
<rect x="545.06" y="1126.26" width="17" height="4.6" fill="#722b8e"/>
<rect x="571.59" y="1082.8" width="4" height="39.66" fill="#722b8e"/>
<rect x="565.09" y="1080.5" width="17" height="4.6" fill="#722b8e"/>
<rect x="565.09" y="1120.16" width="17" height="4.6" fill="#722b8e"/>
<polyline points="112.9,985.67 132.93,1000.42 152.96,1011.1 172.99,1011.1 193.02,1028.39 213.05,1036.01 233.08,1040.08 253.11,1020.76 273.14,1079.24 293.17,1066.02 313.2,995.33 333.23,930.75 353.26,1074.66 373.29,1059.91 393.32,1137.21 413.35,1087.88 433.38,1128.56 453.41,1164.16 473.44,1134.66 493.47,1134.66 513.5,1080.76 533.53,1133.65 553.56,1095.51 573.59,1102.63" fill="none" stroke="#722b8e" stroke-width="4.6" stroke-linejoin="round"/>
<circle cx="112.9" cy="985.67" r="9.9" fill="#722b8e"/>
<circle cx="132.93" cy="1000.42" r="9.9" fill="#722b8e"/>
<circle cx="152.96" cy="1011.1" r="9.9" fill="#722b8e"/>
<circle cx="172.99" cy="1011.1" r="9.9" fill="#722b8e"/>
<circle cx="193.02" cy="1028.39" r="9.9" fill="#722b8e"/>
<circle cx="213.05" cy="1036.01" r="9.9" fill="#722b8e"/>
<circle cx="233.08" cy="1040.08" r="9.9" fill="#722b8e"/>
<circle cx="253.11" cy="1020.76" r="9.9" fill="#722b8e"/>
<circle cx="273.14" cy="1079.24" r="9.9" fill="#722b8e"/>
<circle cx="293.17" cy="1066.02" r="9.9" fill="#722b8e"/>
<circle cx="313.2" cy="995.33" r="9.9" fill="#722b8e"/>
<circle cx="333.23" cy="930.75" r="9.9" fill="#722b8e"/>
<circle cx="353.26" cy="1074.66" r="9.9" fill="#722b8e"/>
<circle cx="373.29" cy="1059.91" r="9.9" fill="#722b8e"/>
<circle cx="393.32" cy="1137.21" r="9.9" fill="#722b8e"/>
<circle cx="413.35" cy="1087.88" r="9.9" fill="#722b8e"/>
<circle cx="433.38" cy="1128.56" r="9.9" fill="#722b8e"/>
<circle cx="453.41" cy="1164.16" r="9.9" fill="#722b8e"/>
<circle cx="473.44" cy="1134.66" r="9.9" fill="#722b8e"/>
<circle cx="493.47" cy="1134.66" r="9.9" fill="#722b8e"/>
<circle cx="513.5" cy="1080.76" r="9.9" fill="#722b8e"/>
<circle cx="533.53" cy="1133.65" r="9.9" fill="#722b8e"/>
<circle cx="553.56" cy="1095.51" r="9.9" fill="#722b8e"/>
<circle cx="573.59" cy="1102.63" r="9.9" fill="#722b8e"/>
<rect x="458.3" y="931.05" width="33.8" height="4.9" fill="#05090a"/>
<circle cx="475" cy="932.7" r="7.4" fill="#ffffff" stroke="#05090a" stroke-width="4.9"/>
<text x="498" y="942.2" font-size="26" textLength="87.32" lengthAdjust="spacingAndGlyphs">Non Tg</text>
<rect x="458.3" y="960.75" width="33.8" height="4.9" fill="#722b8e"/>
<circle cx="474.6" cy="963.9" r="9.9" fill="#722b8e"/>
<text x="498.41" y="972.4" font-size="26" textLength="31.2" lengthAdjust="spacingAndGlyphs">Tg</text>
<text x="4.4" y="1426.1" font-size="25" font-weight="bold">j</text>
<text x="192.38" y="1422.6" font-size="26.4" textLength="309.07" lengthAdjust="spacingAndGlyphs">10-month old wakefulness</text>
<text transform="translate(23.7 1711.8) rotate(-90)" x="-0.12" y="0" font-size="26.2" textLength="195.03" lengthAdjust="spacingAndGlyphs">Wakefulness time</text>
<text transform="translate(55 1712.4) rotate(-90)" x="-1.61" y="0" font-size="25.3" textLength="187.32" lengthAdjust="spacingAndGlyphs">(min/60 min-bin)</text>
<rect x="101.7" y="1780.2" width="11.2" height="4.2" fill="#05090a"/>
<text x="76.66" y="1792.1" font-size="25.8">0</text>
<rect x="101.7" y="1678.2" width="11.2" height="4.2" fill="#05090a"/>
<text x="60.92" y="1690.1" font-size="25.8">20</text>
<rect x="101.7" y="1576.2" width="11.2" height="4.2" fill="#05090a"/>
<text x="60.92" y="1588.1" font-size="25.8">40</text>
<rect x="101.7" y="1472.2" width="11.2" height="5" fill="#05090a"/>
<text x="60.92" y="1484.5" font-size="25.8">60</text>
<rect x="110.8" y="1744" width="465.7" height="38.3" fill="#05090a"/>
<rect x="339.3" y="1749.6" width="232" height="26.2" fill="#ffffff"/>
<rect x="110.8" y="1472.2" width="4.2" height="312.2" fill="#05090a"/>
<rect x="101.7" y="1780.2" width="474.8" height="4.2" fill="#05090a"/>
<rect x="110.8" y="1782.3" width="4.2" height="9.1" fill="#05090a"/>
<text transform="translate(118.8 1824.72) rotate(-90)" x="0" y="0" font-size="18">13</text>
<rect x="130.83" y="1782.3" width="4.2" height="9.1" fill="#05090a"/>
<text transform="translate(139.43 1824.72) rotate(-90)" x="0" y="0" font-size="18">14</text>
<rect x="150.86" y="1782.3" width="4.2" height="9.1" fill="#05090a"/>
<text transform="translate(158.36 1824.72) rotate(-90)" x="0" y="0" font-size="18">15</text>
<rect x="170.89" y="1782.3" width="4.2" height="9.1" fill="#05090a"/>
<text transform="translate(178.99 1824.72) rotate(-90)" x="0" y="0" font-size="18">16</text>
<rect x="190.92" y="1782.3" width="4.2" height="9.1" fill="#05090a"/>
<text transform="translate(198.02 1824.72) rotate(-90)" x="0" y="0" font-size="18">17</text>
<rect x="210.95" y="1782.3" width="4.2" height="9.1" fill="#05090a"/>
<text transform="translate(218.65 1824.72) rotate(-90)" x="0" y="0" font-size="18">18</text>
<rect x="230.98" y="1782.3" width="4.2" height="9.1" fill="#05090a"/>
<text transform="translate(237.78 1824.72) rotate(-90)" x="0" y="0" font-size="18">19</text>
<rect x="251.01" y="1782.3" width="4.2" height="9.1" fill="#05090a"/>
<text transform="translate(258.31 1824.72) rotate(-90)" x="0" y="0" font-size="18">20</text>
<rect x="271.04" y="1782.3" width="4.2" height="9.1" fill="#05090a"/>
<text transform="translate(278.14 1824.72) rotate(-90)" x="0" y="0" font-size="18">21</text>
<rect x="291.07" y="1782.3" width="4.2" height="9.1" fill="#05090a"/>
<text transform="translate(297.27 1824.72) rotate(-90)" x="0" y="0" font-size="18">22</text>
<rect x="311.1" y="1782.3" width="4.2" height="9.1" fill="#05090a"/>
<text transform="translate(317.9 1824.72) rotate(-90)" x="0" y="0" font-size="18">23</text>
<rect x="331.13" y="1782.3" width="4.2" height="9.1" fill="#05090a"/>
<text transform="translate(336.93 1824.72) rotate(-90)" x="0" y="0" font-size="18">24</text>
<rect x="351.16" y="1782.3" width="4.2" height="9.1" fill="#05090a"/>
<text transform="translate(359.46 1814.71) rotate(-90)" x="0" y="0" font-size="18">1</text>
<rect x="371.19" y="1782.3" width="4.2" height="9.1" fill="#05090a"/>
<text transform="translate(380.79 1814.71) rotate(-90)" x="0" y="0" font-size="18">2</text>
<rect x="391.22" y="1782.3" width="4.2" height="9.1" fill="#05090a"/>
<text transform="translate(399.32 1814.71) rotate(-90)" x="0" y="0" font-size="18">3</text>
<rect x="411.25" y="1782.3" width="4.2" height="9.1" fill="#05090a"/>
<text transform="translate(419.25 1814.71) rotate(-90)" x="0" y="0" font-size="18">4</text>
<rect x="431.28" y="1782.3" width="4.2" height="9.1" fill="#05090a"/>
<text transform="translate(439.78 1814.71) rotate(-90)" x="0" y="0" font-size="18">5</text>
<rect x="451.31" y="1782.3" width="4.2" height="9.1" fill="#05090a"/>
<text transform="translate(459.01 1814.71) rotate(-90)" x="0" y="0" font-size="18">6</text>
<rect x="471.34" y="1782.3" width="4.2" height="9.1" fill="#05090a"/>
<text transform="translate(479.54 1814.71) rotate(-90)" x="0" y="0" font-size="18">7</text>
<rect x="491.37" y="1782.3" width="4.2" height="9.1" fill="#05090a"/>
<text transform="translate(498.77 1814.71) rotate(-90)" x="0" y="0" font-size="18">8</text>
<rect x="511.4" y="1782.3" width="4.2" height="9.1" fill="#05090a"/>
<text transform="translate(519.4 1814.71) rotate(-90)" x="0" y="0" font-size="18">9</text>
<rect x="531.43" y="1782.3" width="4.2" height="9.1" fill="#05090a"/>
<text transform="translate(538.63 1824.72) rotate(-90)" x="0" y="0" font-size="18">10</text>
<rect x="551.46" y="1782.3" width="4.2" height="9.1" fill="#05090a"/>
<text transform="translate(558.56 1823.39) rotate(-90)" x="0" y="0" font-size="18">11</text>
<rect x="571.49" y="1782.3" width="4.2" height="9.1" fill="#05090a"/>
<text transform="translate(579.09 1824.72) rotate(-90)" x="0" y="0" font-size="18">12</text>
<text x="148.45" y="1771.8" font-size="26" fill="#ffffff" textLength="153.05" lengthAdjust="spacingAndGlyphs">Active phase</text>
<text x="393.98" y="1771.7" font-size="26" textLength="147.29" lengthAdjust="spacingAndGlyphs">Sleep phase</text>
<text x="309.84" y="1889.7" font-size="27">ZT</text>
<rect x="110.9" y="1515.15" width="4" height="25.43" fill="#05090a"/>
<rect x="104.4" y="1512.85" width="17" height="4.6" fill="#05090a"/>
<rect x="104.4" y="1538.27" width="17" height="4.6" fill="#05090a"/>
<rect x="130.93" y="1576.17" width="4" height="30.51" fill="#05090a"/>
<rect x="124.43" y="1573.87" width="17" height="4.6" fill="#05090a"/>
<rect x="124.43" y="1604.38" width="17" height="4.6" fill="#05090a"/>
<rect x="150.96" y="1623.96" width="4" height="42.71" fill="#05090a"/>
<rect x="144.46" y="1621.66" width="17" height="4.6" fill="#05090a"/>
<rect x="144.46" y="1664.38" width="17" height="4.6" fill="#05090a"/>
<rect x="170.99" y="1567.52" width="4" height="50.85" fill="#05090a"/>
<rect x="164.49" y="1565.22" width="17" height="4.6" fill="#05090a"/>
<rect x="164.49" y="1616.07" width="17" height="4.6" fill="#05090a"/>
<rect x="191.02" y="1596" width="4" height="55.93" fill="#05090a"/>
<rect x="184.52" y="1593.7" width="17" height="4.6" fill="#05090a"/>
<rect x="184.52" y="1649.63" width="17" height="4.6" fill="#05090a"/>
<rect x="211.05" y="1556.33" width="4" height="45.76" fill="#05090a"/>
<rect x="204.55" y="1554.03" width="17" height="4.6" fill="#05090a"/>
<rect x="204.55" y="1599.8" width="17" height="4.6" fill="#05090a"/>
<rect x="231.08" y="1649.39" width="4" height="20.34" fill="#05090a"/>
<rect x="224.58" y="1647.09" width="17" height="4.6" fill="#05090a"/>
<rect x="224.58" y="1667.43" width="17" height="4.6" fill="#05090a"/>
<rect x="251.11" y="1658.54" width="4" height="44.75" fill="#05090a"/>
<rect x="244.61" y="1656.24" width="17" height="4.6" fill="#05090a"/>
<rect x="244.61" y="1700.99" width="17" height="4.6" fill="#05090a"/>
<rect x="271.14" y="1660.07" width="4" height="17.29" fill="#05090a"/>
<rect x="264.64" y="1657.77" width="17" height="4.6" fill="#05090a"/>
<rect x="264.64" y="1675.06" width="17" height="4.6" fill="#05090a"/>
<rect x="291.17" y="1641.76" width="4" height="23.39" fill="#05090a"/>
<rect x="284.67" y="1639.46" width="17" height="4.6" fill="#05090a"/>
<rect x="284.67" y="1662.85" width="17" height="4.6" fill="#05090a"/>
<rect x="311.2" y="1559.89" width="4" height="36.61" fill="#05090a"/>
<rect x="304.7" y="1557.59" width="17" height="4.6" fill="#05090a"/>
<rect x="304.7" y="1594.21" width="17" height="4.6" fill="#05090a"/>
<rect x="331.23" y="1505.48" width="4" height="56.95" fill="#05090a"/>
<rect x="324.73" y="1503.18" width="17" height="4.6" fill="#05090a"/>
<rect x="324.73" y="1560.14" width="17" height="4.6" fill="#05090a"/>
<rect x="351.26" y="1562.94" width="4" height="57.97" fill="#05090a"/>
<rect x="344.76" y="1560.64" width="17" height="4.6" fill="#05090a"/>
<rect x="344.76" y="1618.61" width="17" height="4.6" fill="#05090a"/>
<rect x="371.29" y="1668.71" width="4" height="39.66" fill="#05090a"/>
<rect x="364.79" y="1666.41" width="17" height="4.6" fill="#05090a"/>
<rect x="364.79" y="1706.08" width="17" height="4.6" fill="#05090a"/>
<rect x="391.32" y="1654.47" width="4" height="28.48" fill="#05090a"/>
<rect x="384.82" y="1652.17" width="17" height="4.6" fill="#05090a"/>
<rect x="384.82" y="1680.65" width="17" height="4.6" fill="#05090a"/>
<rect x="411.35" y="1649.9" width="4" height="52.88" fill="#05090a"/>
<rect x="404.85" y="1647.6" width="17" height="4.6" fill="#05090a"/>
<rect x="404.85" y="1700.48" width="17" height="4.6" fill="#05090a"/>
<rect x="431.38" y="1711.43" width="4" height="25.43" fill="#05090a"/>
<rect x="424.88" y="1709.13" width="17" height="4.6" fill="#05090a"/>
<rect x="424.88" y="1734.55" width="17" height="4.6" fill="#05090a"/>
<rect x="451.41" y="1686" width="4" height="25.43" fill="#05090a"/>
<rect x="444.91" y="1683.7" width="17" height="4.6" fill="#05090a"/>
<rect x="444.91" y="1709.13" width="17" height="4.6" fill="#05090a"/>
<rect x="471.44" y="1661.59" width="4" height="43.73" fill="#05090a"/>
<rect x="464.94" y="1659.29" width="17" height="4.6" fill="#05090a"/>
<rect x="464.94" y="1703.02" width="17" height="4.6" fill="#05090a"/>
<rect x="491.47" y="1666.68" width="4" height="43.73" fill="#05090a"/>
<rect x="484.97" y="1664.38" width="17" height="4.6" fill="#05090a"/>
<rect x="484.97" y="1708.11" width="17" height="4.6" fill="#05090a"/>
<rect x="511.5" y="1641.25" width="4" height="61.02" fill="#05090a"/>
<rect x="505" y="1638.95" width="17" height="4.6" fill="#05090a"/>
<rect x="505" y="1699.97" width="17" height="4.6" fill="#05090a"/>
<rect x="531.53" y="1648.37" width="4" height="20.34" fill="#05090a"/>
<rect x="525.03" y="1646.07" width="17" height="4.6" fill="#05090a"/>
<rect x="525.03" y="1666.41" width="17" height="4.6" fill="#05090a"/>
<rect x="551.56" y="1641.76" width="4" height="30.51" fill="#05090a"/>
<rect x="545.06" y="1639.46" width="17" height="4.6" fill="#05090a"/>
<rect x="545.06" y="1669.97" width="17" height="4.6" fill="#05090a"/>
<rect x="571.59" y="1624.98" width="4" height="30.51" fill="#05090a"/>
<rect x="565.09" y="1622.68" width="17" height="4.6" fill="#05090a"/>
<rect x="565.09" y="1653.19" width="17" height="4.6" fill="#05090a"/>
<polyline points="112.9,1527.86 132.93,1591.42 152.96,1645.32 172.99,1592.95 193.02,1623.96 213.05,1579.22 233.08,1659.56 253.11,1680.92 273.14,1668.71 293.17,1653.46 313.2,1578.2 333.23,1533.96 353.26,1591.93 373.29,1688.54 393.32,1668.71 413.35,1676.34 433.38,1724.14 453.41,1698.71 473.44,1683.46 493.47,1688.54 513.5,1671.76 533.53,1658.54 553.56,1657.02 573.59,1640.24" fill="none" stroke="#05090a" stroke-width="4.6" stroke-linejoin="round"/>
<circle cx="112.9" cy="1527.86" r="7.4" fill="#ffffff" stroke="#05090a" stroke-width="4.9"/>
<circle cx="132.93" cy="1591.42" r="7.4" fill="#ffffff" stroke="#05090a" stroke-width="4.9"/>
<circle cx="152.96" cy="1645.32" r="7.4" fill="#ffffff" stroke="#05090a" stroke-width="4.9"/>
<circle cx="172.99" cy="1592.95" r="7.4" fill="#ffffff" stroke="#05090a" stroke-width="4.9"/>
<circle cx="193.02" cy="1623.96" r="7.4" fill="#ffffff" stroke="#05090a" stroke-width="4.9"/>
<circle cx="213.05" cy="1579.22" r="7.4" fill="#ffffff" stroke="#05090a" stroke-width="4.9"/>
<circle cx="233.08" cy="1659.56" r="7.4" fill="#ffffff" stroke="#05090a" stroke-width="4.9"/>
<circle cx="253.11" cy="1680.92" r="7.4" fill="#ffffff" stroke="#05090a" stroke-width="4.9"/>
<circle cx="273.14" cy="1668.71" r="7.4" fill="#ffffff" stroke="#05090a" stroke-width="4.9"/>
<circle cx="293.17" cy="1653.46" r="7.4" fill="#ffffff" stroke="#05090a" stroke-width="4.9"/>
<circle cx="313.2" cy="1578.2" r="7.4" fill="#ffffff" stroke="#05090a" stroke-width="4.9"/>
<circle cx="333.23" cy="1533.96" r="7.4" fill="#ffffff" stroke="#05090a" stroke-width="4.9"/>
<circle cx="353.26" cy="1591.93" r="7.4" fill="#ffffff" stroke="#05090a" stroke-width="4.9"/>
<circle cx="373.29" cy="1688.54" r="7.4" fill="#ffffff" stroke="#05090a" stroke-width="4.9"/>
<circle cx="393.32" cy="1668.71" r="7.4" fill="#ffffff" stroke="#05090a" stroke-width="4.9"/>
<circle cx="413.35" cy="1676.34" r="7.4" fill="#ffffff" stroke="#05090a" stroke-width="4.9"/>
<circle cx="433.38" cy="1724.14" r="7.4" fill="#ffffff" stroke="#05090a" stroke-width="4.9"/>
<circle cx="453.41" cy="1698.71" r="7.4" fill="#ffffff" stroke="#05090a" stroke-width="4.9"/>
<circle cx="473.44" cy="1683.46" r="7.4" fill="#ffffff" stroke="#05090a" stroke-width="4.9"/>
<circle cx="493.47" cy="1688.54" r="7.4" fill="#ffffff" stroke="#05090a" stroke-width="4.9"/>
<circle cx="513.5" cy="1671.76" r="7.4" fill="#ffffff" stroke="#05090a" stroke-width="4.9"/>
<circle cx="533.53" cy="1658.54" r="7.4" fill="#ffffff" stroke="#05090a" stroke-width="4.9"/>
<circle cx="553.56" cy="1657.02" r="7.4" fill="#ffffff" stroke="#05090a" stroke-width="4.9"/>
<circle cx="573.59" cy="1640.24" r="7.4" fill="#ffffff" stroke="#05090a" stroke-width="4.9"/>
<rect x="110.9" y="1492.77" width="4" height="30.51" fill="#0c8142"/>
<rect x="104.4" y="1490.47" width="17" height="4.6" fill="#0c8142"/>
<rect x="104.4" y="1520.98" width="17" height="4.6" fill="#0c8142"/>
<rect x="130.93" y="1522.26" width="4" height="39.66" fill="#0c8142"/>
<rect x="124.43" y="1519.96" width="17" height="4.6" fill="#0c8142"/>
<rect x="124.43" y="1559.63" width="17" height="4.6" fill="#0c8142"/>
<rect x="150.96" y="1519.21" width="4" height="48.82" fill="#0c8142"/>
<rect x="144.46" y="1516.91" width="17" height="4.6" fill="#0c8142"/>
<rect x="144.46" y="1565.73" width="17" height="4.6" fill="#0c8142"/>
<rect x="170.99" y="1517.69" width="4" height="32.54" fill="#0c8142"/>
<rect x="164.49" y="1515.39" width="17" height="4.6" fill="#0c8142"/>
<rect x="164.49" y="1547.93" width="17" height="4.6" fill="#0c8142"/>
<rect x="191.02" y="1530.91" width="4" height="38.65" fill="#0c8142"/>
<rect x="184.52" y="1528.61" width="17" height="4.6" fill="#0c8142"/>
<rect x="184.52" y="1567.26" width="17" height="4.6" fill="#0c8142"/>
<rect x="211.05" y="1558.37" width="4" height="74.24" fill="#0c8142"/>
<rect x="204.55" y="1556.07" width="17" height="4.6" fill="#0c8142"/>
<rect x="204.55" y="1630.31" width="17" height="4.6" fill="#0c8142"/>
<rect x="231.08" y="1546.16" width="4" height="56.95" fill="#0c8142"/>
<rect x="224.58" y="1543.86" width="17" height="4.6" fill="#0c8142"/>
<rect x="224.58" y="1600.82" width="17" height="4.6" fill="#0c8142"/>
<rect x="251.11" y="1565.49" width="4" height="72.21" fill="#0c8142"/>
<rect x="244.61" y="1563.19" width="17" height="4.6" fill="#0c8142"/>
<rect x="244.61" y="1635.39" width="17" height="4.6" fill="#0c8142"/>
<rect x="271.14" y="1579.22" width="4" height="71.19" fill="#0c8142"/>
<rect x="264.64" y="1576.92" width="17" height="4.6" fill="#0c8142"/>
<rect x="264.64" y="1648.11" width="17" height="4.6" fill="#0c8142"/>
<rect x="291.17" y="1579.22" width="4" height="56.95" fill="#0c8142"/>
<rect x="284.67" y="1576.92" width="17" height="4.6" fill="#0c8142"/>
<rect x="284.67" y="1633.87" width="17" height="4.6" fill="#0c8142"/>
<rect x="311.2" y="1503.96" width="4" height="32.54" fill="#0c8142"/>
<rect x="304.7" y="1501.66" width="17" height="4.6" fill="#0c8142"/>
<rect x="304.7" y="1534.2" width="17" height="4.6" fill="#0c8142"/>
<rect x="331.23" y="1511.59" width="4" height="83.39" fill="#0c8142"/>
<rect x="324.73" y="1509.29" width="17" height="4.6" fill="#0c8142"/>
<rect x="324.73" y="1592.68" width="17" height="4.6" fill="#0c8142"/>
<rect x="351.26" y="1604.13" width="4" height="78.31" fill="#0c8142"/>
<rect x="344.76" y="1601.83" width="17" height="4.6" fill="#0c8142"/>
<rect x="344.76" y="1680.14" width="17" height="4.6" fill="#0c8142"/>
<rect x="371.29" y="1631.59" width="4" height="46.78" fill="#0c8142"/>
<rect x="364.79" y="1629.29" width="17" height="4.6" fill="#0c8142"/>
<rect x="364.79" y="1676.07" width="17" height="4.6" fill="#0c8142"/>
<rect x="391.32" y="1692.61" width="4" height="29.49" fill="#0c8142"/>
<rect x="384.82" y="1690.31" width="17" height="4.6" fill="#0c8142"/>
<rect x="384.82" y="1719.81" width="17" height="4.6" fill="#0c8142"/>
<rect x="411.35" y="1713.46" width="4" height="21.36" fill="#0c8142"/>
<rect x="404.85" y="1711.16" width="17" height="4.6" fill="#0c8142"/>
<rect x="404.85" y="1732.52" width="17" height="4.6" fill="#0c8142"/>
<rect x="431.38" y="1681.93" width="4" height="44.75" fill="#0c8142"/>
<rect x="424.88" y="1679.63" width="17" height="4.6" fill="#0c8142"/>
<rect x="424.88" y="1724.38" width="17" height="4.6" fill="#0c8142"/>
<rect x="451.41" y="1652.44" width="4" height="39.66" fill="#0c8142"/>
<rect x="444.91" y="1650.14" width="17" height="4.6" fill="#0c8142"/>
<rect x="444.91" y="1689.8" width="17" height="4.6" fill="#0c8142"/>
<rect x="471.44" y="1663.63" width="4" height="43.73" fill="#0c8142"/>
<rect x="464.94" y="1661.33" width="17" height="4.6" fill="#0c8142"/>
<rect x="464.94" y="1705.06" width="17" height="4.6" fill="#0c8142"/>
<rect x="491.47" y="1721.09" width="4" height="26.44" fill="#0c8142"/>
<rect x="484.97" y="1718.79" width="17" height="4.6" fill="#0c8142"/>
<rect x="484.97" y="1745.23" width="17" height="4.6" fill="#0c8142"/>
<rect x="511.5" y="1619.9" width="4" height="32.54" fill="#0c8142"/>
<rect x="505" y="1617.6" width="17" height="4.6" fill="#0c8142"/>
<rect x="505" y="1650.14" width="17" height="4.6" fill="#0c8142"/>
<rect x="531.53" y="1678.37" width="4" height="20.34" fill="#0c8142"/>
<rect x="525.03" y="1676.07" width="17" height="4.6" fill="#0c8142"/>
<rect x="525.03" y="1696.41" width="17" height="4.6" fill="#0c8142"/>
<rect x="551.56" y="1631.59" width="4" height="44.75" fill="#0c8142"/>
<rect x="545.06" y="1629.29" width="17" height="4.6" fill="#0c8142"/>
<rect x="545.06" y="1674.04" width="17" height="4.6" fill="#0c8142"/>
<rect x="571.59" y="1592.95" width="4" height="26.44" fill="#0c8142"/>
<rect x="565.09" y="1590.65" width="17" height="4.6" fill="#0c8142"/>
<rect x="565.09" y="1617.09" width="17" height="4.6" fill="#0c8142"/>
<polyline points="112.9,1508.03 132.93,1542.1 152.96,1543.62 172.99,1533.96 193.02,1550.23 213.05,1595.49 233.08,1574.64 253.11,1601.59 273.14,1614.81 293.17,1607.69 313.2,1520.23 333.23,1553.28 353.26,1643.29 373.29,1654.98 393.32,1707.36 413.35,1724.14 433.38,1704.31 453.41,1672.27 473.44,1685.49 493.47,1734.31 513.5,1636.17 533.53,1688.54 553.56,1653.97 573.59,1606.17" fill="none" stroke="#0c8142" stroke-width="4.6" stroke-linejoin="round"/>
<circle cx="112.9" cy="1508.03" r="9.9" fill="#0c8142"/>
<circle cx="132.93" cy="1542.1" r="9.9" fill="#0c8142"/>
<circle cx="152.96" cy="1543.62" r="9.9" fill="#0c8142"/>
<circle cx="172.99" cy="1533.96" r="9.9" fill="#0c8142"/>
<circle cx="193.02" cy="1550.23" r="9.9" fill="#0c8142"/>
<circle cx="213.05" cy="1595.49" r="9.9" fill="#0c8142"/>
<circle cx="233.08" cy="1574.64" r="9.9" fill="#0c8142"/>
<circle cx="253.11" cy="1601.59" r="9.9" fill="#0c8142"/>
<circle cx="273.14" cy="1614.81" r="9.9" fill="#0c8142"/>
<circle cx="293.17" cy="1607.69" r="9.9" fill="#0c8142"/>
<circle cx="313.2" cy="1520.23" r="9.9" fill="#0c8142"/>
<circle cx="333.23" cy="1553.28" r="9.9" fill="#0c8142"/>
<circle cx="353.26" cy="1643.29" r="9.9" fill="#0c8142"/>
<circle cx="373.29" cy="1654.98" r="9.9" fill="#0c8142"/>
<circle cx="393.32" cy="1707.36" r="9.9" fill="#0c8142"/>
<circle cx="413.35" cy="1724.14" r="9.9" fill="#0c8142"/>
<circle cx="433.38" cy="1704.31" r="9.9" fill="#0c8142"/>
<circle cx="453.41" cy="1672.27" r="9.9" fill="#0c8142"/>
<circle cx="473.44" cy="1685.49" r="9.9" fill="#0c8142"/>
<circle cx="493.47" cy="1734.31" r="9.9" fill="#0c8142"/>
<circle cx="513.5" cy="1636.17" r="9.9" fill="#0c8142"/>
<circle cx="533.53" cy="1688.54" r="9.9" fill="#0c8142"/>
<circle cx="553.56" cy="1653.97" r="9.9" fill="#0c8142"/>
<circle cx="573.59" cy="1606.17" r="9.9" fill="#0c8142"/>
<rect x="458.3" y="1492.05" width="33.8" height="4.9" fill="#05090a"/>
<circle cx="475" cy="1493.7" r="7.4" fill="#ffffff" stroke="#05090a" stroke-width="4.9"/>
<text x="498" y="1503.2" font-size="26" textLength="87.32" lengthAdjust="spacingAndGlyphs">Non Tg</text>
<rect x="458.3" y="1521.75" width="33.8" height="4.9" fill="#0c8142"/>
<circle cx="474.6" cy="1524.9" r="9.9" fill="#0c8142"/>
<text x="498.41" y="1533.4" font-size="26" textLength="31.2" lengthAdjust="spacingAndGlyphs">Tg</text>
<text x="692.55" y="306.8" font-size="25" font-weight="bold" textLength="15.04" lengthAdjust="spacingAndGlyphs">c</text>
<text x="841.72" y="303.1" font-size="26.4" textLength="112.44" lengthAdjust="spacingAndGlyphs">Total time</text>
<rect x="784.1" y="353.8" width="10.4" height="4.8" fill="#05090a"/>
<text x="735.2" y="365.8" font-size="25.6">720</text>
<rect x="784.1" y="405" width="10.4" height="4.8" fill="#05090a"/>
<text x="735.2" y="417" font-size="25.6">600</text>
<rect x="784.1" y="456.2" width="10.4" height="4.8" fill="#05090a"/>
<text x="735.2" y="468.2" font-size="25.6">480</text>
<rect x="784.1" y="507.4" width="10.4" height="4.8" fill="#05090a"/>
<text x="735.2" y="519.4" font-size="25.6">360</text>
<rect x="784.1" y="558.6" width="10.4" height="4.8" fill="#05090a"/>
<text x="735.2" y="570.6" font-size="25.6">240</text>
<rect x="784.1" y="609.8" width="10.4" height="4.8" fill="#05090a"/>
<text x="735.2" y="621.8" font-size="25.6">120</text>
<rect x="784.1" y="661" width="10.4" height="4.8" fill="#05090a"/>
<text x="763.66" y="673" font-size="25.6">0</text>
<rect x="819.8" y="481.5" width="4.5" height="6.1" fill="#05090a"/>
<rect x="815.05" y="479.25" width="14" height="4.5" fill="#05090a"/>
<rect x="809.65" y="487.95" width="24.8" height="175.45" fill="#ffffff" stroke="#05090a" stroke-width="4.7"/>
<rect x="860.6" y="456.4" width="4.5" height="10.7" fill="#3854a6"/>
<rect x="855.85" y="454.15" width="14" height="4.5" fill="#3854a6"/>
<rect x="849.4" y="465.1" width="26.9" height="198.3" fill="#3854a6"/>
<rect x="929.25" y="542.2" width="4.5" height="9.2" fill="#05090a"/>
<rect x="924.5" y="539.95" width="14" height="4.5" fill="#05090a"/>
<rect x="920.15" y="551.75" width="22.7" height="111.65" fill="#ffffff" stroke="#05090a" stroke-width="4.7"/>
<rect x="970.35" y="557.1" width="4.5" height="7.9" fill="#3854a6"/>
<rect x="965.6" y="554.85" width="14" height="4.5" fill="#3854a6"/>
<rect x="958.6" y="563" width="28" height="100.4" fill="#3854a6"/>
<rect x="792.1" y="353.8" width="4.8" height="312" fill="#05090a"/>
<rect x="784.1" y="661" width="217.6" height="4.8" fill="#05090a"/>
<rect x="840.3" y="663.4" width="4.8" height="9.9" fill="#05090a"/>
<rect x="949.4" y="663.4" width="4.8" height="9.9" fill="#05090a"/>
<text x="814.87" y="702.9" font-size="26">Dark</text>
<text x="922.83" y="702.9" font-size="26" textLength="57.44" lengthAdjust="spacingAndGlyphs">Light</text>
<rect x="820.7" y="443.8" width="43.7" height="4.8" fill="#05090a"/>
<text x="828.07" y="437.8" font-size="25" textLength="29.23" lengthAdjust="spacingAndGlyphs">ns</text>
<rect x="931.7" y="525.4" width="41.3" height="4.8" fill="#05090a"/>
<text x="937.09" y="519.7" font-size="25" textLength="28.89" lengthAdjust="spacingAndGlyphs">ns</text>
<rect x="839.3" y="350.6" width="29.5" height="18.3" fill="#ffffff" stroke="#05090a" stroke-width="4.6"/>
<rect x="837" y="378" width="34.1" height="22" fill="#3854a6"/>
<text x="887.96" y="369.5" font-size="26" textLength="82" lengthAdjust="spacingAndGlyphs">NonTg</text>
<text x="891.41" y="397.1" font-size="26" textLength="31.2" lengthAdjust="spacingAndGlyphs">Tg</text>
<text x="1145.13" y="306.8" font-size="25" font-weight="bold" textLength="17.45" lengthAdjust="spacingAndGlyphs">d</text>
<text x="1264.54" y="303.1" font-size="26.4">Episode number</text>
<rect x="1247.5" y="353.8" width="11.3" height="4.8" fill="#05090a"/>
<text x="1198.7" y="365.8" font-size="25.6">120</text>
<rect x="1247.5" y="507.4" width="11.3" height="4.8" fill="#05090a"/>
<text x="1212.93" y="519.4" font-size="25.6">60</text>
<rect x="1247.5" y="661" width="11.3" height="4.8" fill="#05090a"/>
<text x="1227.16" y="673" font-size="25.6">0</text>
<rect x="1283.05" y="527.8" width="4.5" height="11.6" fill="#05090a"/>
<rect x="1278.3" y="525.55" width="14" height="4.5" fill="#05090a"/>
<rect x="1273.85" y="539.75" width="22.9" height="123.65" fill="#ffffff" stroke="#05090a" stroke-width="4.7"/>
<rect x="1324.4" y="556.6" width="4.5" height="12.8" fill="#3854a6"/>
<rect x="1319.65" y="554.35" width="14" height="4.5" fill="#3854a6"/>
<rect x="1312.7" y="567.4" width="27.9" height="96" fill="#3854a6"/>
<rect x="1392.95" y="530.7" width="4.5" height="11.8" fill="#05090a"/>
<rect x="1388.2" y="528.45" width="14" height="4.5" fill="#05090a"/>
<rect x="1384.15" y="542.85" width="22.1" height="120.55" fill="#ffffff" stroke="#05090a" stroke-width="4.7"/>
<rect x="1433.5" y="531.4" width="4.5" height="12.3" fill="#3854a6"/>
<rect x="1428.75" y="529.15" width="14" height="4.5" fill="#3854a6"/>
<rect x="1421.4" y="541.7" width="28.7" height="121.7" fill="#3854a6"/>
<rect x="1256.4" y="353.8" width="4.8" height="312" fill="#05090a"/>
<rect x="1247.5" y="661" width="218.2" height="4.8" fill="#05090a"/>
<rect x="1304.3" y="663.4" width="4.8" height="9.9" fill="#05090a"/>
<rect x="1413.4" y="663.4" width="4.8" height="9.9" fill="#05090a"/>
<text x="1278.45" y="702.9" font-size="26" textLength="55.33" lengthAdjust="spacingAndGlyphs">Dark</text>
<text x="1388.12" y="702.9" font-size="26" textLength="55.05" lengthAdjust="spacingAndGlyphs">Light</text>
<rect x="1283" y="514.6" width="44.8" height="4.8" fill="#05090a"/>
<text x="1264.45" y="505" font-size="26" font-style="italic">p</text>
<text x="1276.19" y="505" font-size="26" textLength="70.03" lengthAdjust="spacingAndGlyphs">=0.091</text>
<rect x="1391.9" y="517" width="45.8" height="4.8" fill="#05090a"/>
<text x="1401.66" y="506.5" font-size="25" textLength="27.9" lengthAdjust="spacingAndGlyphs">ns</text>
<rect x="1302.3" y="350.6" width="29.5" height="18.3" fill="#ffffff" stroke="#05090a" stroke-width="4.6"/>
<rect x="1300" y="378" width="34.1" height="22" fill="#3854a6"/>
<text x="1350.96" y="369.5" font-size="26" textLength="82" lengthAdjust="spacingAndGlyphs">NonTg</text>
<text x="1354.41" y="397.1" font-size="26" textLength="31.2" lengthAdjust="spacingAndGlyphs">Tg</text>
<text x="1621.77" y="306.8" font-size="25" font-weight="bold" textLength="14.74" lengthAdjust="spacingAndGlyphs">e</text>
<text x="1737.72" y="303.1" font-size="26.4" textLength="199.31" lengthAdjust="spacingAndGlyphs">Episode duration</text>
<rect x="1724.3" y="353.8" width="9.7" height="4.8" fill="#05090a"/>
<text x="1689.63" y="365.8" font-size="25.6">40</text>
<rect x="1724.3" y="430.6" width="9.7" height="4.8" fill="#05090a"/>
<text x="1689.63" y="442.6" font-size="25.6">30</text>
<rect x="1724.3" y="507.4" width="9.7" height="4.8" fill="#05090a"/>
<text x="1689.63" y="519.4" font-size="25.6">20</text>
<rect x="1724.3" y="584.2" width="9.7" height="4.8" fill="#05090a"/>
<text x="1689.63" y="596.2" font-size="25.6">10</text>
<rect x="1724.3" y="661" width="9.7" height="4.8" fill="#05090a"/>
<text x="1703.86" y="673" font-size="25.6">0</text>
<rect x="1760.8" y="597.8" width="4.5" height="4.7" fill="#05090a"/>
<rect x="1756.05" y="595.55" width="14" height="4.5" fill="#05090a"/>
<rect x="1751.85" y="602.85" width="22.4" height="60.55" fill="#ffffff" stroke="#05090a" stroke-width="4.7"/>
<rect x="1801.4" y="535" width="4.5" height="22.4" fill="#3854a6"/>
<rect x="1796.65" y="532.75" width="14" height="4.5" fill="#3854a6"/>
<rect x="1789.5" y="555.4" width="28.3" height="108" fill="#3854a6"/>
<rect x="1870.15" y="615.3" width="4.5" height="6.3" fill="#05090a"/>
<rect x="1865.4" y="613.05" width="14" height="4.5" fill="#05090a"/>
<rect x="1860.95" y="621.95" width="22.9" height="41.45" fill="#ffffff" stroke="#05090a" stroke-width="4.7"/>
<rect x="1911.25" y="622.5" width="4.5" height="3.9" fill="#3854a6"/>
<rect x="1906.5" y="620.25" width="14" height="4.5" fill="#3854a6"/>
<rect x="1900.1" y="624.4" width="26.8" height="39" fill="#3854a6"/>
<rect x="1731.6" y="353.8" width="4.8" height="312" fill="#05090a"/>
<rect x="1724.3" y="661" width="218.7" height="4.8" fill="#05090a"/>
<rect x="1779.8" y="663.4" width="4.8" height="9.9" fill="#05090a"/>
<rect x="1890.2" y="663.4" width="4.8" height="9.9" fill="#05090a"/>
<text x="1755.77" y="702.9" font-size="26">Dark</text>
<text x="1862.38" y="702.9" font-size="26" textLength="58.69" lengthAdjust="spacingAndGlyphs">Light</text>
<rect x="1757.1" y="523.7" width="48.7" height="4.8" fill="#05090a"/>
<text x="1766.88" y="511.3" font-size="25" textLength="29.12" lengthAdjust="spacingAndGlyphs">ns</text>
<rect x="1868.9" y="604.5" width="48.4" height="4.8" fill="#05090a"/>
<text x="1878.81" y="591.6" font-size="25" textLength="28.67" lengthAdjust="spacingAndGlyphs">ns</text>
<rect x="1780.1" y="350.6" width="29.5" height="18.3" fill="#ffffff" stroke="#05090a" stroke-width="4.6"/>
<rect x="1777.8" y="378" width="34.1" height="22" fill="#3854a6"/>
<text x="1828.76" y="369.5" font-size="26" textLength="82" lengthAdjust="spacingAndGlyphs">NonTg</text>
<text x="1832.21" y="397.1" font-size="26" textLength="31.2" lengthAdjust="spacingAndGlyphs">Tg</text>
<text x="692.58" y="865.5" font-size="25" font-weight="bold">g</text>
<text x="841.72" y="861.8" font-size="26.4" textLength="112.44" lengthAdjust="spacingAndGlyphs">Total time</text>
<rect x="784.1" y="912.5" width="10.4" height="4.8" fill="#05090a"/>
<text x="735.2" y="924.5" font-size="25.6">720</text>
<rect x="784.1" y="963.7" width="10.4" height="4.8" fill="#05090a"/>
<text x="735.2" y="975.7" font-size="25.6">600</text>
<rect x="784.1" y="1014.9" width="10.4" height="4.8" fill="#05090a"/>
<text x="735.2" y="1026.9" font-size="25.6">480</text>
<rect x="784.1" y="1066.1" width="10.4" height="4.8" fill="#05090a"/>
<text x="735.2" y="1078.1" font-size="25.6">360</text>
<rect x="784.1" y="1117.3" width="10.4" height="4.8" fill="#05090a"/>
<text x="735.2" y="1129.3" font-size="25.6">240</text>
<rect x="784.1" y="1168.5" width="10.4" height="4.8" fill="#05090a"/>
<text x="735.2" y="1180.5" font-size="25.6">120</text>
<rect x="784.1" y="1219.7" width="10.4" height="4.8" fill="#05090a"/>
<text x="763.66" y="1231.7" font-size="25.6">0</text>
<rect x="819.8" y="1031.4" width="4.5" height="9.7" fill="#05090a"/>
<rect x="815.05" y="1029.15" width="14" height="4.5" fill="#05090a"/>
<rect x="809.65" y="1041.45" width="24.8" height="180.65" fill="#ffffff" stroke="#05090a" stroke-width="4.7"/>
<rect x="860.6" y="1003.4" width="4.5" height="16.8" fill="#722b8e"/>
<rect x="855.85" y="1001.15" width="14" height="4.5" fill="#722b8e"/>
<rect x="849.4" y="1018.2" width="26.9" height="203.9" fill="#722b8e"/>
<rect x="929.25" y="1096.9" width="4.5" height="10.9" fill="#05090a"/>
<rect x="924.5" y="1094.65" width="14" height="4.5" fill="#05090a"/>
<rect x="920.15" y="1108.15" width="22.7" height="113.95" fill="#ffffff" stroke="#05090a" stroke-width="4.7"/>
<rect x="970.35" y="1104.6" width="4.5" height="9.9" fill="#722b8e"/>
<rect x="965.6" y="1102.35" width="14" height="4.5" fill="#722b8e"/>
<rect x="958.6" y="1112.5" width="28" height="109.6" fill="#722b8e"/>
<rect x="792.1" y="912.5" width="4.8" height="312" fill="#05090a"/>
<rect x="784.1" y="1219.7" width="217.6" height="4.8" fill="#05090a"/>
<rect x="840.3" y="1222.1" width="4.8" height="9.9" fill="#05090a"/>
<rect x="949.4" y="1222.1" width="4.8" height="9.9" fill="#05090a"/>
<text x="814.87" y="1261.6" font-size="26">Dark</text>
<text x="922.83" y="1261.6" font-size="26" textLength="57.44" lengthAdjust="spacingAndGlyphs">Light</text>
<rect x="822.6" y="990.7" width="41.7" height="4.8" fill="#05090a"/>
<text x="828.51" y="980.2" font-size="25" textLength="28.67" lengthAdjust="spacingAndGlyphs">ns</text>
<rect x="931.7" y="1084.7" width="41.3" height="4.8" fill="#05090a"/>
<text x="937.09" y="1072.5" font-size="25" textLength="28.89" lengthAdjust="spacingAndGlyphs">ns</text>
<rect x="892" y="909.3" width="29.5" height="18.3" fill="#ffffff" stroke="#05090a" stroke-width="4.6"/>
<rect x="889.7" y="936.7" width="34.1" height="22" fill="#722b8e"/>
<text x="940.66" y="928.2" font-size="26" textLength="82" lengthAdjust="spacingAndGlyphs">NonTg</text>
<text x="944.11" y="955.8" font-size="26" textLength="31.2" lengthAdjust="spacingAndGlyphs">Tg</text>
<text x="1144.55" y="865.5" font-size="25" font-weight="bold">h</text>
<text x="1264.54" y="861.8" font-size="26.4">Episode number</text>
<rect x="1247.5" y="912.5" width="11.3" height="4.8" fill="#05090a"/>
<text x="1198.7" y="924.5" font-size="25.6">120</text>
<rect x="1247.5" y="1066.1" width="11.3" height="4.8" fill="#05090a"/>
<text x="1212.93" y="1078.1" font-size="25.6">60</text>
<rect x="1247.5" y="1219.7" width="11.3" height="4.8" fill="#05090a"/>
<text x="1227.16" y="1231.7" font-size="25.6">0</text>
<rect x="1283.05" y="1066.2" width="4.5" height="8" fill="#05090a"/>
<rect x="1278.3" y="1063.95" width="14" height="4.5" fill="#05090a"/>
<rect x="1273.85" y="1074.55" width="22.9" height="147.55" fill="#ffffff" stroke="#05090a" stroke-width="4.7"/>
<rect x="1324.4" y="1104.6" width="4.5" height="21.2" fill="#722b8e"/>
<rect x="1319.65" y="1102.35" width="14" height="4.5" fill="#722b8e"/>
<rect x="1312.7" y="1123.8" width="27.9" height="98.3" fill="#722b8e"/>
<rect x="1392.95" y="1079.9" width="4.5" height="15.9" fill="#05090a"/>
<rect x="1388.2" y="1077.65" width="14" height="4.5" fill="#05090a"/>
<rect x="1384.15" y="1096.15" width="22.1" height="125.95" fill="#ffffff" stroke="#05090a" stroke-width="4.7"/>
<rect x="1433.5" y="1093.8" width="4.5" height="18.3" fill="#722b8e"/>
<rect x="1428.75" y="1091.55" width="14" height="4.5" fill="#722b8e"/>
<rect x="1421.4" y="1110.1" width="28.7" height="112" fill="#722b8e"/>
<rect x="1256.4" y="912.5" width="4.8" height="312" fill="#05090a"/>
<rect x="1247.5" y="1219.7" width="218.2" height="4.8" fill="#05090a"/>
<rect x="1304.3" y="1222.1" width="4.8" height="9.9" fill="#05090a"/>
<rect x="1413.4" y="1222.1" width="4.8" height="9.9" fill="#05090a"/>
<text x="1278.45" y="1261.6" font-size="26" textLength="55.33" lengthAdjust="spacingAndGlyphs">Dark</text>
<text x="1388.12" y="1261.6" font-size="26" textLength="55.05" lengthAdjust="spacingAndGlyphs">Light</text>
<rect x="1285.2" y="1051.4" width="40.7" height="4.8" fill="#05090a"/>
<text x="1301.17" y="1051.16" font-size="24.5" textLength="7.96" lengthAdjust="spacingAndGlyphs">*</text>
<rect x="1395.7" y="1065.7" width="40.8" height="4.8" fill="#05090a"/>
<text x="1401.66" y="1060.5" font-size="25" textLength="27.9" lengthAdjust="spacingAndGlyphs">ns</text>
<rect x="1302.3" y="909.3" width="29.5" height="18.3" fill="#ffffff" stroke="#05090a" stroke-width="4.6"/>
<rect x="1300" y="936.7" width="34.1" height="22" fill="#722b8e"/>
<text x="1350.96" y="928.2" font-size="26" textLength="82" lengthAdjust="spacingAndGlyphs">NonTg</text>
<text x="1354.41" y="955.8" font-size="26" textLength="31.2" lengthAdjust="spacingAndGlyphs">Tg</text>
<text x="1621.05" y="865.5" font-size="25" font-weight="bold">i</text>
<text x="1737.72" y="861.8" font-size="26.4" textLength="199.31" lengthAdjust="spacingAndGlyphs">Episode duration</text>
<rect x="1724.3" y="912.5" width="9.7" height="4.8" fill="#05090a"/>
<text x="1689.63" y="924.5" font-size="25.6">40</text>
<rect x="1724.3" y="989.3" width="9.7" height="4.8" fill="#05090a"/>
<text x="1689.63" y="1001.3" font-size="25.6">30</text>
<rect x="1724.3" y="1066.1" width="9.7" height="4.8" fill="#05090a"/>
<text x="1689.63" y="1078.1" font-size="25.6">20</text>
<rect x="1724.3" y="1142.9" width="9.7" height="4.8" fill="#05090a"/>
<text x="1689.63" y="1154.9" font-size="25.6">10</text>
<rect x="1724.3" y="1219.7" width="9.7" height="4.8" fill="#05090a"/>
<text x="1703.86" y="1231.7" font-size="25.6">0</text>
<rect x="1760.8" y="1162.9" width="4.5" height="4.8" fill="#05090a"/>
<rect x="1756.05" y="1160.65" width="14" height="4.5" fill="#05090a"/>
<rect x="1751.85" y="1168.05" width="22.4" height="54.05" fill="#ffffff" stroke="#05090a" stroke-width="4.7"/>
<rect x="1801.4" y="1059" width="4.5" height="36.3" fill="#722b8e"/>
<rect x="1796.65" y="1056.75" width="14" height="4.5" fill="#722b8e"/>
<rect x="1789.5" y="1093.3" width="28.3" height="128.8" fill="#722b8e"/>
<rect x="1870.15" y="1174.1" width="4.5" height="6.3" fill="#05090a"/>
<rect x="1865.4" y="1171.85" width="14" height="4.5" fill="#05090a"/>
<rect x="1860.95" y="1180.75" width="22.9" height="41.35" fill="#ffffff" stroke="#05090a" stroke-width="4.7"/>
<rect x="1911.25" y="1168.1" width="4.5" height="8" fill="#722b8e"/>
<rect x="1906.5" y="1165.85" width="14" height="4.5" fill="#722b8e"/>
<rect x="1900.1" y="1174.1" width="26.8" height="48" fill="#722b8e"/>
<rect x="1731.6" y="912.5" width="4.8" height="312" fill="#05090a"/>
<rect x="1724.3" y="1219.7" width="218.7" height="4.8" fill="#05090a"/>
<rect x="1779.8" y="1222.1" width="4.8" height="9.9" fill="#05090a"/>
<rect x="1890.2" y="1222.1" width="4.8" height="9.9" fill="#05090a"/>
<text x="1755.77" y="1261.6" font-size="26">Dark</text>
<text x="1862.38" y="1261.6" font-size="26" textLength="58.69" lengthAdjust="spacingAndGlyphs">Light</text>
<rect x="1761.5" y="1040.3" width="45.5" height="4.8" fill="#05090a"/>
<text x="1741.65" y="1033.8" font-size="26" font-style="italic">p</text>
<text x="1753.18" y="1033.8" font-size="26" textLength="83.42" lengthAdjust="spacingAndGlyphs">=0.084</text>
<rect x="1871.8" y="1158.6" width="43.2" height="4.8" fill="#05090a"/>
<text x="1878.46" y="1146.1" font-size="25" textLength="27.79" lengthAdjust="spacingAndGlyphs">ns</text>
<rect x="1780.1" y="909.3" width="29.5" height="18.3" fill="#ffffff" stroke="#05090a" stroke-width="4.6"/>
<rect x="1777.8" y="936.7" width="34.1" height="22" fill="#722b8e"/>
<text x="1828.76" y="928.2" font-size="26" textLength="82" lengthAdjust="spacingAndGlyphs">NonTg</text>
<text x="1832.21" y="955.8" font-size="26" textLength="31.2" lengthAdjust="spacingAndGlyphs">Tg</text>
<text x="691.85" y="1426.8" font-size="25" font-weight="bold">k</text>
<text x="841.72" y="1423.1" font-size="26.4" textLength="112.44" lengthAdjust="spacingAndGlyphs">Total time</text>
<rect x="784.1" y="1473.8" width="10.4" height="4.8" fill="#05090a"/>
<text x="735.2" y="1485.8" font-size="25.6">720</text>
<rect x="784.1" y="1525" width="10.4" height="4.8" fill="#05090a"/>
<text x="735.2" y="1537" font-size="25.6">600</text>
<rect x="784.1" y="1576.2" width="10.4" height="4.8" fill="#05090a"/>
<text x="735.2" y="1588.2" font-size="25.6">480</text>
<rect x="784.1" y="1627.4" width="10.4" height="4.8" fill="#05090a"/>
<text x="735.2" y="1639.4" font-size="25.6">360</text>
<rect x="784.1" y="1678.6" width="10.4" height="4.8" fill="#05090a"/>
<text x="735.2" y="1690.6" font-size="25.6">240</text>
<rect x="784.1" y="1729.8" width="10.4" height="4.8" fill="#05090a"/>
<text x="735.2" y="1741.8" font-size="25.6">120</text>
<rect x="784.1" y="1781" width="10.4" height="4.8" fill="#05090a"/>
<text x="763.66" y="1793" font-size="25.6">0</text>
<rect x="819.8" y="1608" width="4.5" height="8" fill="#05090a"/>
<rect x="815.05" y="1605.75" width="14" height="4.5" fill="#05090a"/>
<rect x="809.65" y="1616.35" width="24.8" height="167.05" fill="#ffffff" stroke="#05090a" stroke-width="4.7"/>
<rect x="860.6" y="1548.8" width="4.5" height="18.1" fill="#0c8142"/>
<rect x="855.85" y="1546.55" width="14" height="4.5" fill="#0c8142"/>
<rect x="849.4" y="1564.9" width="26.9" height="218.5" fill="#0c8142"/>
<rect x="929.25" y="1665.6" width="4.5" height="9.2" fill="#05090a"/>
<rect x="924.5" y="1663.35" width="14" height="4.5" fill="#05090a"/>
<rect x="920.15" y="1675.15" width="22.7" height="108.25" fill="#ffffff" stroke="#05090a" stroke-width="4.7"/>
<rect x="970.35" y="1668" width="4.5" height="13.5" fill="#0c8142"/>
<rect x="965.6" y="1665.75" width="14" height="4.5" fill="#0c8142"/>
<rect x="958.6" y="1679.5" width="28" height="103.9" fill="#0c8142"/>
<rect x="792.1" y="1473.8" width="4.8" height="312" fill="#05090a"/>
<rect x="784.1" y="1781" width="217.6" height="4.8" fill="#05090a"/>
<rect x="840.3" y="1783.4" width="4.8" height="9.9" fill="#05090a"/>
<rect x="949.4" y="1783.4" width="4.8" height="9.9" fill="#05090a"/>
<text x="814.87" y="1822.9" font-size="26">Dark</text>
<text x="922.83" y="1822.9" font-size="26" textLength="57.44" lengthAdjust="spacingAndGlyphs">Light</text>
<rect x="819.4" y="1533.2" width="45.2" height="4.8" fill="#05090a"/>
<text x="837.89" y="1534.36" font-size="24.5" textLength="7.52" lengthAdjust="spacingAndGlyphs">*</text>
<rect x="930.3" y="1654.3" width="42.7" height="4.8" fill="#05090a"/>
<text x="937.09" y="1647.9" font-size="25" textLength="28.89" lengthAdjust="spacingAndGlyphs">ns</text>
<rect x="892" y="1470.6" width="29.5" height="18.3" fill="#ffffff" stroke="#05090a" stroke-width="4.6"/>
<rect x="889.7" y="1498" width="34.1" height="22" fill="#0c8142"/>
<text x="940.66" y="1489.5" font-size="26" textLength="82" lengthAdjust="spacingAndGlyphs">NonTg</text>
<text x="944.11" y="1517.1" font-size="26" textLength="31.2" lengthAdjust="spacingAndGlyphs">Tg</text>
<text x="1144.55" y="1426.8" font-size="25" font-weight="bold">l</text>
<text x="1264.54" y="1423.1" font-size="26.4">Episode number</text>
<rect x="1247.5" y="1473.8" width="11.3" height="4.8" fill="#05090a"/>
<text x="1198.7" y="1485.8" font-size="25.6">120</text>
<rect x="1247.5" y="1627.4" width="11.3" height="4.8" fill="#05090a"/>
<text x="1212.93" y="1639.4" font-size="25.6">60</text>
<rect x="1247.5" y="1781" width="11.3" height="4.8" fill="#05090a"/>
<text x="1227.16" y="1793" font-size="25.6">0</text>
<rect x="1283.05" y="1647.1" width="4.5" height="10.4" fill="#05090a"/>
<rect x="1278.3" y="1644.85" width="14" height="4.5" fill="#05090a"/>
<rect x="1273.85" y="1657.85" width="22.9" height="125.55" fill="#ffffff" stroke="#05090a" stroke-width="4.7"/>
<rect x="1324.4" y="1696.8" width="4.5" height="14.4" fill="#0c8142"/>
<rect x="1319.65" y="1694.55" width="14" height="4.5" fill="#0c8142"/>
<rect x="1312.7" y="1709.2" width="27.9" height="74.2" fill="#0c8142"/>
<rect x="1392.95" y="1650.7" width="4.5" height="15.2" fill="#05090a"/>
<rect x="1388.2" y="1648.45" width="14" height="4.5" fill="#05090a"/>
<rect x="1384.15" y="1666.25" width="22.1" height="117.15" fill="#ffffff" stroke="#05090a" stroke-width="4.7"/>
<rect x="1433.5" y="1659.6" width="4.5" height="14.4" fill="#0c8142"/>
<rect x="1428.75" y="1657.35" width="14" height="4.5" fill="#0c8142"/>
<rect x="1421.4" y="1672" width="28.7" height="111.4" fill="#0c8142"/>
<rect x="1256.4" y="1473.8" width="4.8" height="312" fill="#05090a"/>
<rect x="1247.5" y="1781" width="218.2" height="4.8" fill="#05090a"/>
<rect x="1304.3" y="1783.4" width="4.8" height="9.9" fill="#05090a"/>
<rect x="1413.4" y="1783.4" width="4.8" height="9.9" fill="#05090a"/>
<text x="1278.45" y="1822.9" font-size="26" textLength="55.33" lengthAdjust="spacingAndGlyphs">Dark</text>
<text x="1388.12" y="1822.9" font-size="26" textLength="55.05" lengthAdjust="spacingAndGlyphs">Light</text>
<rect x="1283.8" y="1626" width="47.6" height="4.8" fill="#05090a"/>
<text x="1299.61" y="1627.16" font-size="24.5" textLength="18.78" lengthAdjust="spacingAndGlyphs">**</text>
<rect x="1392.1" y="1629.6" width="48" height="4.8" fill="#05090a"/>
<text x="1401.66" y="1623.9" font-size="25" textLength="27.9" lengthAdjust="spacingAndGlyphs">ns</text>
<rect x="1302.3" y="1470.6" width="29.5" height="18.3" fill="#ffffff" stroke="#05090a" stroke-width="4.6"/>
<rect x="1300" y="1498" width="34.1" height="22" fill="#0c8142"/>
<text x="1350.96" y="1489.5" font-size="26" textLength="82" lengthAdjust="spacingAndGlyphs">NonTg</text>
<text x="1354.41" y="1517.1" font-size="26" textLength="31.2" lengthAdjust="spacingAndGlyphs">Tg</text>
<text x="1621.15" y="1426.8" font-size="25" font-weight="bold">m</text>
<text x="1737.72" y="1423.1" font-size="26.4" textLength="199.31" lengthAdjust="spacingAndGlyphs">Episode duration</text>
<rect x="1724.3" y="1473.8" width="9.7" height="4.8" fill="#05090a"/>
<text x="1689.63" y="1485.8" font-size="25.6">40</text>
<rect x="1724.3" y="1550.6" width="9.7" height="4.8" fill="#05090a"/>
<text x="1689.63" y="1562.6" font-size="25.6">30</text>
<rect x="1724.3" y="1627.4" width="9.7" height="4.8" fill="#05090a"/>
<text x="1689.63" y="1639.4" font-size="25.6">20</text>
<rect x="1724.3" y="1704.2" width="9.7" height="4.8" fill="#05090a"/>
<text x="1689.63" y="1716.2" font-size="25.6">10</text>
<rect x="1724.3" y="1781" width="9.7" height="4.8" fill="#05090a"/>
<text x="1703.86" y="1793" font-size="25.6">0</text>
<rect x="1760.8" y="1717.1" width="4.5" height="6.8" fill="#05090a"/>
<rect x="1756.05" y="1714.85" width="14" height="4.5" fill="#05090a"/>
<rect x="1751.85" y="1724.25" width="22.4" height="59.15" fill="#ffffff" stroke="#05090a" stroke-width="4.7"/>
<rect x="1801.4" y="1520.5" width="4.5" height="62.7" fill="#0c8142"/>
<rect x="1796.65" y="1518.25" width="14" height="4.5" fill="#0c8142"/>
<rect x="1789.5" y="1581.2" width="28.3" height="202.2" fill="#0c8142"/>
<rect x="1870.15" y="1736.3" width="4.5" height="5.1" fill="#05090a"/>
<rect x="1865.4" y="1734.05" width="14" height="4.5" fill="#05090a"/>
<rect x="1860.95" y="1741.75" width="22.9" height="41.65" fill="#ffffff" stroke="#05090a" stroke-width="4.7"/>
<rect x="1911.25" y="1732.7" width="4.5" height="6.8" fill="#0c8142"/>
<rect x="1906.5" y="1730.45" width="14" height="4.5" fill="#0c8142"/>
<rect x="1900.1" y="1737.5" width="26.8" height="45.9" fill="#0c8142"/>
<rect x="1731.6" y="1473.8" width="4.8" height="312" fill="#05090a"/>
<rect x="1724.3" y="1781" width="218.7" height="4.8" fill="#05090a"/>
<rect x="1779.8" y="1783.4" width="4.8" height="9.9" fill="#05090a"/>
<rect x="1890.2" y="1783.4" width="4.8" height="9.9" fill="#05090a"/>
<text x="1755.77" y="1822.9" font-size="26">Dark</text>
<text x="1862.38" y="1822.9" font-size="26" textLength="58.69" lengthAdjust="spacingAndGlyphs">Light</text>
<rect x="1761.5" y="1503.7" width="42.6" height="4.8" fill="#05090a"/>
<text x="1744.85" y="1491.7" font-size="26" font-style="italic">p</text>
<text x="1756.38" y="1491.7" font-size="26" textLength="82.87" lengthAdjust="spacingAndGlyphs">=0.060</text>
<rect x="1873" y="1715.9" width="44.3" height="4.8" fill="#05090a"/>
<text x="1879.5" y="1707.8" font-size="25" textLength="30.44" lengthAdjust="spacingAndGlyphs">ns</text>
<rect x="1853" y="1470.6" width="29.5" height="18.3" fill="#ffffff" stroke="#05090a" stroke-width="4.6"/>
<rect x="1850.7" y="1498" width="34.1" height="22" fill="#0c8142"/>
<text x="1901.66" y="1489.5" font-size="26" textLength="82" lengthAdjust="spacingAndGlyphs">NonTg</text>
<text x="1905.11" y="1517.1" font-size="26" textLength="31.2" lengthAdjust="spacingAndGlyphs">Tg</text>
<text transform="translate(704.9 648) rotate(-90)" x="-0.13" y="0" font-size="26" textLength="275.36" lengthAdjust="spacingAndGlyphs">Wakefulness time (min)</text>
<text transform="translate(1157.6 586.5) rotate(-90)" x="-0.13" y="0" font-size="26" textLength="152.39" lengthAdjust="spacingAndGlyphs">Wakefulness</text>
<text transform="translate(1188.1 604.7) rotate(-90)" x="-1.11" y="0" font-size="26" textLength="189.87" lengthAdjust="spacingAndGlyphs">episode number</text>
<text transform="translate(1634.1 585.7) rotate(-90)" x="-0.13" y="0" font-size="26" textLength="151.08" lengthAdjust="spacingAndGlyphs">Wakefulness</text>
<text transform="translate(1665.4 640.9) rotate(-90)" x="-1.11" y="0" font-size="26" textLength="262.44" lengthAdjust="spacingAndGlyphs">episode duration (min)</text>
<text transform="translate(704.9 1206.7) rotate(-90)" x="-0.13" y="0" font-size="26" textLength="275.36" lengthAdjust="spacingAndGlyphs">Wakefulness time (min)</text>
<text transform="translate(1157.6 1145.2) rotate(-90)" x="-0.13" y="0" font-size="26" textLength="152.39" lengthAdjust="spacingAndGlyphs">Wakefulness</text>
<text transform="translate(1188.1 1163.4) rotate(-90)" x="-1.11" y="0" font-size="26" textLength="189.87" lengthAdjust="spacingAndGlyphs">episode number</text>
<text transform="translate(1634.1 1144.4) rotate(-90)" x="-0.13" y="0" font-size="26" textLength="151.08" lengthAdjust="spacingAndGlyphs">Wakefulness</text>
<text transform="translate(1665.4 1199.6) rotate(-90)" x="-1.11" y="0" font-size="26" textLength="262.44" lengthAdjust="spacingAndGlyphs">episode duration (min)</text>
<text transform="translate(704.9 1767.5) rotate(-90)" x="-0.13" y="0" font-size="26" textLength="275.36" lengthAdjust="spacingAndGlyphs">Wakefulness time (min)</text>
<text transform="translate(1157.6 1706) rotate(-90)" x="-0.13" y="0" font-size="26" textLength="152.39" lengthAdjust="spacingAndGlyphs">Wakefulness</text>
<text transform="translate(1188.1 1724.2) rotate(-90)" x="-1.11" y="0" font-size="26" textLength="189.87" lengthAdjust="spacingAndGlyphs">episode number</text>
<text transform="translate(1634.1 1705.2) rotate(-90)" x="-0.13" y="0" font-size="26" textLength="151.08" lengthAdjust="spacingAndGlyphs">Wakefulness</text>
<text transform="translate(1665.4 1760.4) rotate(-90)" x="-1.11" y="0" font-size="26" textLength="262.44" lengthAdjust="spacingAndGlyphs">episode duration (min)</text>
</svg>
</body></html>
